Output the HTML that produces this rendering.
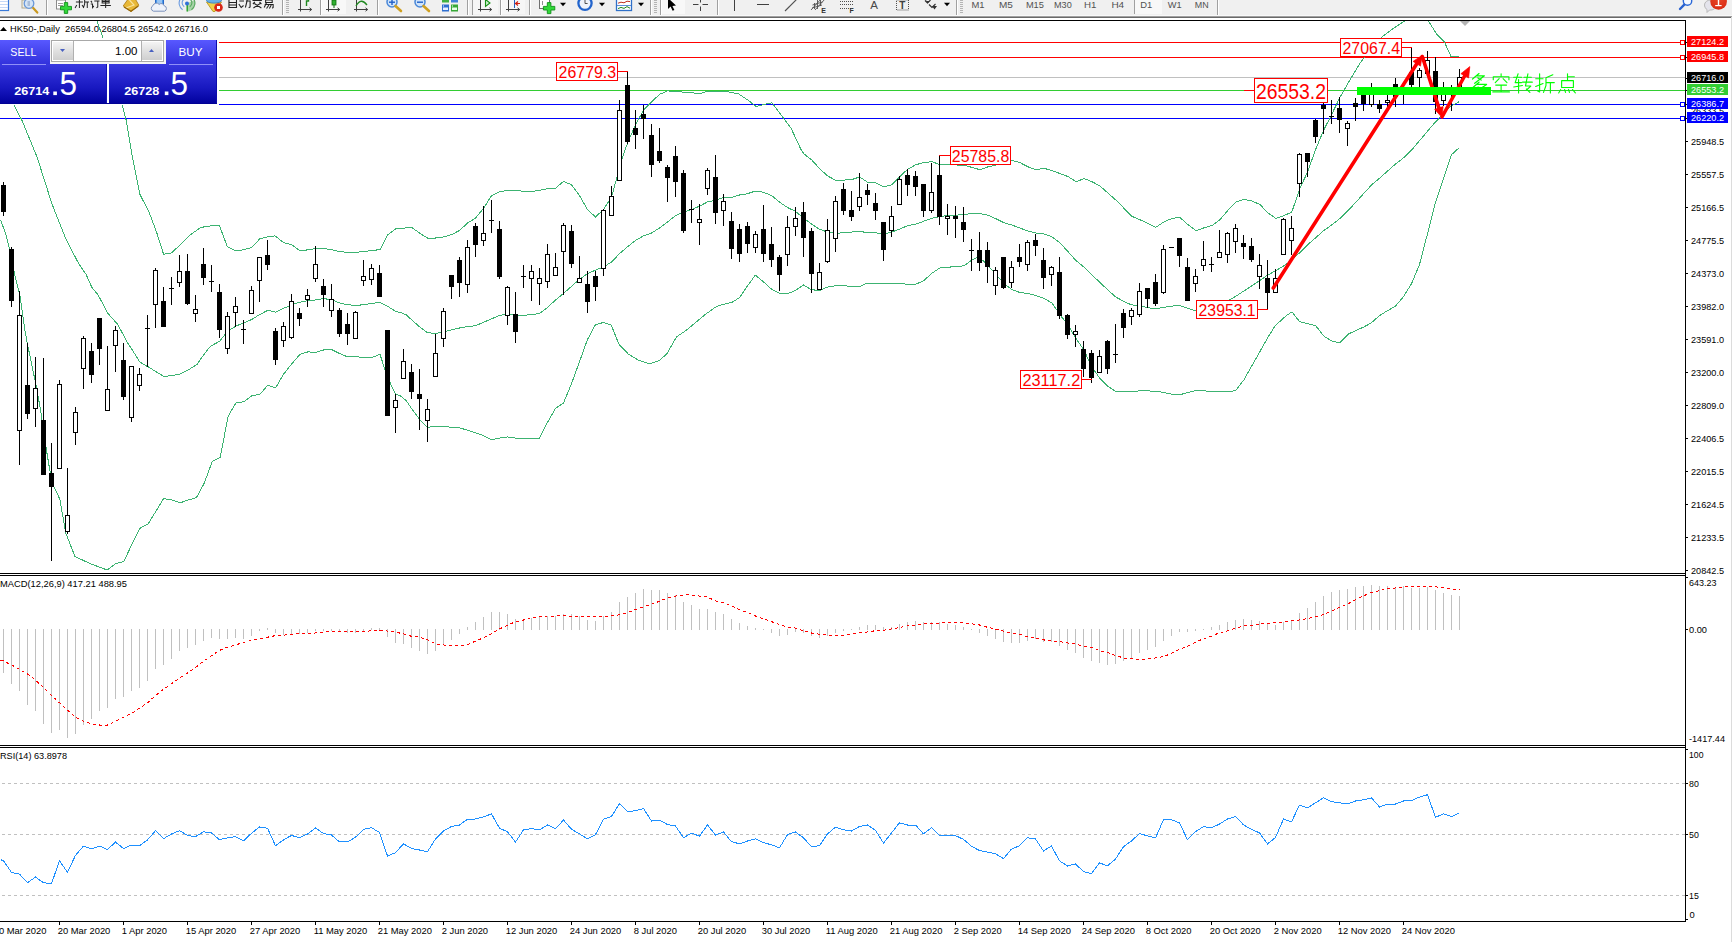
<!DOCTYPE html>
<html><head><meta charset="utf-8"><title>HK50-,Daily</title>
<style>html,body{margin:0;padding:0;background:#fff;overflow:hidden}svg{display:block;font-family:"Liberation Sans", sans-serif}text{white-space:pre}</style></head><body>
<svg width="1732" height="942" viewBox="0 0 1732 942">
<defs><clipPath id="cm"><rect x="0" y="21" width="1685" height="552"/></clipPath><clipPath id="cmacd"><rect x="0" y="576" width="1685" height="169"/></clipPath><clipPath id="crsi"><rect x="0" y="748" width="1685" height="173"/></clipPath><linearGradient id="gtop" x1="0" y1="0" x2="0" y2="1"><stop offset="0" stop-color="#5858ff"/><stop offset="1" stop-color="#3232dc"/></linearGradient><linearGradient id="gbot" x1="0" y1="0" x2="0" y2="1"><stop offset="0" stop-color="#3838e0"/><stop offset="0.6" stop-color="#1818c0"/><stop offset="1" stop-color="#00009c"/></linearGradient><linearGradient id="gbtn" x1="0" y1="0" x2="0" y2="1"><stop offset="0" stop-color="#f4f4f4"/><stop offset="0.5" stop-color="#e0e0e0"/><stop offset="1" stop-color="#cfcfcf"/></linearGradient><radialGradient id="gred" cx="0.5" cy="0.3" r="0.8"><stop offset="0" stop-color="#e8482a"/><stop offset="1" stop-color="#d82810"/></radialGradient></defs>
<rect x="0" y="0" width="1732" height="942" fill="#fff" />
<rect x="0" y="0" width="1732" height="15" fill="#f0f0f0" />
<rect x="0" y="15" width="1732" height="1" fill="#f8f8f8" />
<rect x="0" y="16" width="1732" height="1" fill="#a0a0a0" />
<rect x="0" y="17" width="1732" height="1" fill="#696969" />
<g id="toolbar">
<rect x="-1" y="-1" width="9.5" height="11.5" fill="#fff" stroke="#3a7ad8" stroke-width="1.2"/>
<rect x="0" y="1" width="8" height="1" fill="#c4d8f6" />
<rect x="0" y="4" width="8" height="1" fill="#c4d8f6" />
<rect x="0" y="7" width="8" height="1" fill="#c4d8f6" />
<rect x="22" y="0" width="10" height="8" fill="#f4f0e4" stroke="#b0a890" stroke-width="1"/>
<circle cx="29" cy="3.5" r="4.8" fill="#d4e4f6" stroke="#6a98d8" stroke-width="1.3"/>
<rect x="27.5" y="1" width="2.5" height="5" fill="#a8bcd8" />
<path d="M33.2,8 L37.3,12.6" stroke="#c89820" stroke-width="2.2" stroke-linecap="round"/>
<rect x="46" y="0" width="1" height="15" fill="#a0a0a0" />
<rect x="47" y="0" width="1" height="15" fill="#fff" />
<rect x="56.5" y="0" width="9" height="9" fill="#fff" stroke="#8a8a8a" stroke-width="1"/>
<rect x="58" y="3" width="5" height="1" fill="#9a9a9a" />
<rect x="58" y="5" width="5" height="1" fill="#9a9a9a" />
<path d="M64.3,2.6 h3.4 v3.8 h3.8 v3.4 h-3.8 v3.6 h-3.4 v-3.6 h-3.8 v-3.4 h3.8 z" fill="#30d838" stroke="#109018" stroke-width="0.9"/>
<g stroke="#222" stroke-width="1.15" fill="none" transform="translate(9.4,0) scale(0.875,1)"><path d="M76,2 h8 M80,0 v8 M77,5 l-2,3 M83,5 l1.5,2 M86,0 v4 l-1.5,4 M86,2 h5 M89,2 v6"/><path d="M93,1 l1.5,1.5 M93,4 h2 v3.5 l1.5,-1.5 M97,1 h6 M101,1 v6 l-1.5,0.8"/><path d="M106,0 h8 v3 h-8 z M106,1.5 h8 M110,0 v8 M104,5.5 h12"/></g>
<path d="M123.2,6 L128.5,-1.5 L135,-1.5 L138.8,5.2 L131,11.6 Z" fill="#e8b838" stroke="#b08018" stroke-width="0.9"/>
<path d="M128.5,-1 L134,5 L126,8" fill="none" stroke="#f8e4a0" stroke-width="1.2"/>
<path d="M124,7 L131,11.2 L138.4,6" fill="none" stroke="#986808" stroke-width="1.3"/>
<rect x="155.5" y="-1" width="8" height="6.5" fill="#4a98e8" stroke="#2868c8" stroke-width="1"/>
<rect x="157" y="0.5" width="5" height="1" fill="#e8f2ff" />
<rect x="157" y="2.5" width="5" height="1" fill="#e8f2ff" />
<path d="M153.5,11.2 a3,3 0 0 1 -0.5,-5.6 a3.6,3.6 0 0 1 6.2,-1.2 a3,3 0 0 1 5,1.4 a2.8,2.8 0 0 1 0.3,5.4 z" fill="#eef2fa" stroke="#7c92bc" stroke-width="1"/>
<path d="M187,3.5 L187,11.5 A8,8 0 0 0 194.5,0 Z" fill="#a8d4a8"/>
<path d="M183.6,-0.5 a4.6,4.6 0 0 0 0.6,7.2 M180.6,-1.5 a8,8 0 0 0 2,11.2" fill="none" stroke="#6a9ae0" stroke-width="1.1"/>
<path d="M190.4,-0.5 a4.6,4.6 0 0 1 -0.6,7.2 M193.4,-1.5 a8,8 0 0 1 -2,11.2" fill="none" stroke="#58a860" stroke-width="1.1"/>
<rect x="186.5" y="4" width="1.4" height="7.5" fill="#28a028" />
<circle cx="187" cy="3.5" r="2" fill="#3070d8"/>
<path d="M206.5,2 h15 l-6.5,9.5 h-2 z" fill="#f0d048" stroke="#b89820" stroke-width="0.9"/>
<ellipse cx="214" cy="0.5" rx="7.5" ry="2.6" fill="#68b0e8" stroke="#3880c8" stroke-width="0.9"/>
<circle cx="218.5" cy="7.5" r="4.3" fill="#d82818"/>
<rect x="217" y="6" width="3" height="3" fill="#fff" />
<g stroke="#222" stroke-width="1.15" fill="none" transform="translate(13.7,0) scale(0.94,1)"><path d="M229,0 v7.5 h8 v-7.5 M229,2.5 h8 M229,5 h8"/><path d="M240,1 h5 M239.5,4 l2.5,3.5 l2.5,-2 M247,1 h4.5 v6 l-1.5,0.8 M248.5,0 l-2,7.5"/><path d="M254,0.5 h10 M256.5,2 l-2,2 M261.5,2 l2,2 M255,8 l8,-5 M256,3.5 l7.5,4.5"/><path d="M268,0 h7 v2.5 h-7 z M267,4.5 h9 v3 l-1,0.8 M269,2.5 l-2.5,5 M271.5,5 l-2.5,3.5 M274,5 l-2,3.5"/></g>
<rect x="282" y="0" width="1" height="15" fill="#a0a0a0" />
<rect x="283" y="0" width="1" height="15" fill="#fff" />
<rect x="286" y="0" width="3" height="1" fill="#b4b4b4" />
<rect x="286" y="2" width="3" height="1" fill="#b4b4b4" />
<rect x="286" y="4" width="3" height="1" fill="#b4b4b4" />
<rect x="286" y="6" width="3" height="1" fill="#b4b4b4" />
<rect x="286" y="8" width="3" height="1" fill="#b4b4b4" />
<rect x="286" y="10" width="3" height="1" fill="#b4b4b4" />
<rect x="286" y="12" width="3" height="1" fill="#b4b4b4" />
<path d="M300.5,0 V11.5 M298,9.5 H311.5" stroke="#404040" stroke-width="1" fill="none"/>
<path d="M309.5,7.8 l2.2,1.7 l-2.2,1.7" stroke="#404040" stroke-width="1" fill="none"/>
<path d="M306.5,6 V1 h2 V-1" stroke="#208820" stroke-width="1.4" fill="none"/>
<rect x="320" y="0" width="1" height="15" fill="#a0a0a0" />
<rect x="321" y="0" width="1" height="15" fill="#fff" />
<rect x="322" y="0" width="24" height="14" fill="#f8f8f8" />
<path d="M328.5,0 V11.5 M326,9.5 H339.5" stroke="#404040" stroke-width="1" fill="none"/>
<path d="M337.5,7.8 l2.2,1.7 l-2.2,1.7" stroke="#404040" stroke-width="1" fill="none"/>
<rect x="332" y="0" width="4" height="5" fill="#30b030" stroke="#107010" stroke-width="0.8"/>
<rect x="333.5" y="5" width="1" height="3" fill="#107010" />
<path d="M356.5,0 V11.5 M354,9.5 H367.5" stroke="#404040" stroke-width="1" fill="none"/>
<path d="M365.5,7.8 l2.2,1.7 l-2.2,1.7" stroke="#404040" stroke-width="1" fill="none"/>
<path d="M356,6 q5,-9 11,-1" stroke="#208820" stroke-width="1.3" fill="none"/>
<rect x="377" y="0" width="1" height="15" fill="#a0a0a0" />
<rect x="378" y="0" width="1" height="15" fill="#fff" />
<circle cx="392" cy="2" r="5" fill="#d0e4fa" stroke="#4a88d8" stroke-width="1.5"/>
<path d="M395.5,6 L401,11" stroke="#d0a020" stroke-width="2.6" stroke-linecap="round"/>
<rect x="389" y="1.5" width="6" height="1.4" fill="#2060c8" />
<rect x="391.3" y="-1" width="1.4" height="6" fill="#2060c8" />
<circle cx="420" cy="2" r="5" fill="#d0e4fa" stroke="#4a88d8" stroke-width="1.5"/>
<path d="M423.5,6 L429,11" stroke="#d0a020" stroke-width="2.6" stroke-linecap="round"/>
<rect x="417" y="1.5" width="6" height="1.4" fill="#2060c8" />
<rect x="442" y="0" width="7" height="2.5" fill="#40b040" />
<rect x="451" y="0" width="7" height="2.5" fill="#4080d8" />
<rect x="442" y="4.5" width="7" height="7" fill="#3070d0" />
<rect x="451" y="4.5" width="7" height="7" fill="#38a838" />
<rect x="443" y="7.5" width="5" height="2.5" fill="#e8f0ff" />
<rect x="452" y="7.5" width="5" height="2.5" fill="#e8ffe8" />
<rect x="443" y="5.5" width="1" height="1" fill="#fff" />
<rect x="452" y="5.5" width="1" height="1" fill="#fff" />
<rect x="467" y="0" width="1" height="15" fill="#a0a0a0" />
<rect x="468" y="0" width="1" height="15" fill="#fff" />
<rect x="472" y="0" width="1" height="15" fill="#a0a0a0" />
<rect x="473" y="0" width="25" height="14" fill="#f6f6f6" />
<path d="M480.5,0 V11.5 M478,9.5 H491.5" stroke="#404040" stroke-width="1" fill="none"/>
<path d="M489.5,7.8 l2.2,1.7 l-2.2,1.7" stroke="#404040" stroke-width="1" fill="none"/>
<path d="M485.5,-0.5 v7 l4.5,-3.5 z" fill="#c8f0c8" stroke="#189018" stroke-width="1.1"/>
<rect x="500" y="0" width="1" height="15" fill="#a0a0a0" />
<rect x="501" y="0" width="1" height="15" fill="#fff" />
<rect x="502" y="0" width="23" height="14" fill="#f6f6f6" />
<path d="M508.5,0 V11.5 M506,9.5 H519.5" stroke="#404040" stroke-width="1" fill="none"/>
<path d="M517.5,7.8 l2.2,1.7 l-2.2,1.7" stroke="#404040" stroke-width="1" fill="none"/>
<rect x="514" y="0" width="1" height="8" fill="#2060c0" />
<path d="M520,3.5 h-4 m2,-2 l-2.5,2 l2.5,2" stroke="#d02010" stroke-width="1.2" fill="none"/>
<rect x="529" y="0" width="1" height="15" fill="#a0a0a0" />
<rect x="530" y="0" width="1" height="15" fill="#fff" />
<rect x="539.5" y="-1" width="10" height="9.5" fill="#fff" stroke="#707070" stroke-width="1"/>
<rect x="542" y="1" width="1" height="4" fill="#909090" />
<path d="M547.3,2.6 h3.6 v3.8 h3.9 v3.6 h-3.9 v3.6 h-3.6 v-3.6 h-3.9 v-3.6 h3.9 z" fill="#30d838" stroke="#109018" stroke-width="0.9"/>
<path d="M560,2.7 L566,2.7 L563,6.2 Z" fill="#000"/>
<circle cx="585" cy="3.3" r="6.6" fill="#eef2fa" stroke="#2264cc" stroke-width="2.3"/>
<path d="M585,-0.5 v4 h2.6" stroke="#505050" stroke-width="1" fill="none"/>
<path d="M599,2.7 L605,2.7 L602,6.2 Z" fill="#000"/>
<rect x="616.5" y="-1" width="15" height="11.5" fill="#fff" stroke="#3070c8" stroke-width="1.3"/>
<rect x="617" y="5" width="14" height="1" fill="#6090d8" />
<path d="M618,3.2 l3,-1 l3,0.6 l3,-1.6 l3,0.4" stroke="#c03020" stroke-width="1" fill="none"/>
<path d="M618,8.6 l3,-1.2 l3,1 l3,-1.8 l3,1.6" stroke="#208820" stroke-width="1" fill="none"/>
<path d="M638,2.7 L644,2.7 L641,6.2 Z" fill="#000"/>
<rect x="650" y="0" width="1" height="15" fill="#a0a0a0" />
<rect x="651" y="0" width="1" height="15" fill="#fff" />
<rect x="654" y="0" width="3" height="1" fill="#b4b4b4" />
<rect x="654" y="2" width="3" height="1" fill="#b4b4b4" />
<rect x="654" y="4" width="3" height="1" fill="#b4b4b4" />
<rect x="654" y="6" width="3" height="1" fill="#b4b4b4" />
<rect x="654" y="8" width="3" height="1" fill="#b4b4b4" />
<rect x="654" y="10" width="3" height="1" fill="#b4b4b4" />
<rect x="654" y="12" width="3" height="1" fill="#b4b4b4" />
<rect x="660" y="0" width="1" height="15" fill="#a0a0a0" />
<rect x="661" y="0" width="1" height="15" fill="#fff" />
<rect x="662" y="0" width="23" height="14" fill="#f8f8f8" />
<path d="M668,-2 v11 l2.6,-2.4 l2,4.2 l1.8,-0.9 l-2,-4 l3.6,-0.3 z" fill="#000"/>
<path d="M700.5,-2 V11 M693,4.5 H708" stroke="#404040" stroke-width="1" fill="none"/>
<rect x="698.5" y="2.5" width="4" height="4" fill="#f0f0f0" />
<rect x="717" y="0" width="1" height="15" fill="#a0a0a0" />
<rect x="718" y="0" width="1" height="15" fill="#fff" />
<rect x="734" y="0" width="1" height="11" fill="#404040" />
<rect x="757" y="4" width="12" height="1" fill="#404040" />
<path d="M785,11 L796.5,-0.5" stroke="#505050" stroke-width="1.1"/>
<path d="M811,10 l10,-11 M815,10 l10,-11 M812.5,5 l10,-3 M812,8 l10,-3 M817.5,9 l0,-9 M814.5,9 l0,-6 M820.5,6 l0,-7" stroke="#505050" stroke-width="0.9"/>
<text x="821.3" y="13" font-size="7" fill="#303030" font-weight="bold" >E</text>
<path d="M840,1.5 h13" stroke="#505050" stroke-width="1" stroke-dasharray="1 1"/>
<path d="M840,4.5 h13" stroke="#505050" stroke-width="1" stroke-dasharray="1 1"/>
<path d="M840,8.5 h13" stroke="#505050" stroke-width="1" stroke-dasharray="1 1"/>
<text x="849.5" y="13" font-size="7" fill="#303030" font-weight="bold" >F</text>
<text x="870.3" y="8.6" font-size="11.5" fill="#484848" >A</text>
<rect x="896.5" y="0" width="12" height="10" fill="none" stroke="#505050" stroke-width="1" stroke-dasharray="1 1"/>
<text x="899.3" y="9" font-size="10" fill="#404040" font-weight="bold" >T</text>
<path d="M925,0.5 l2.5,2.5 l3,-3 M929,4.5 l3,3 l3.5,-3.5" stroke="#303030" stroke-width="1.1" fill="none"/>
<path d="M926,1 l3.5,0 l-1.8,2.6 z M932,6 l5,0 l-2.5,3.4 z M924.5,-1 l3,0 l-1.5,1.8 z" fill="#303030"/>
<path d="M944,2.7 L950,2.7 L947,6.2 Z" fill="#000"/>
<rect x="956" y="0" width="1" height="15" fill="#a0a0a0" />
<rect x="957" y="0" width="1" height="15" fill="#fff" />
<rect x="960" y="0" width="3" height="1" fill="#b4b4b4" />
<rect x="960" y="2" width="3" height="1" fill="#b4b4b4" />
<rect x="960" y="4" width="3" height="1" fill="#b4b4b4" />
<rect x="960" y="6" width="3" height="1" fill="#b4b4b4" />
<rect x="960" y="8" width="3" height="1" fill="#b4b4b4" />
<rect x="960" y="10" width="3" height="1" fill="#b4b4b4" />
<rect x="960" y="12" width="3" height="1" fill="#b4b4b4" />
<rect x="1135" y="0" width="27" height="14" fill="#f8f8f8" />
<rect x="1134" y="0" width="1" height="14" fill="#a0a0a0" />
<text x="971.5" y="8" font-size="9.3" fill="#505050" textLength="13.1" lengthAdjust="spacingAndGlyphs" >M1</text>
<text x="998.9" y="8" font-size="9.3" fill="#505050" textLength="13.9" lengthAdjust="spacingAndGlyphs" >M5</text>
<text x="1025.9" y="8" font-size="9.3" fill="#505050" textLength="18.0" lengthAdjust="spacingAndGlyphs" >M15</text>
<text x="1054" y="8" font-size="9.3" fill="#505050" textLength="17.7" lengthAdjust="spacingAndGlyphs" >M30</text>
<text x="1084" y="8" font-size="9.3" fill="#505050" textLength="12.4" lengthAdjust="spacingAndGlyphs" >H1</text>
<text x="1111.4" y="8" font-size="9.3" fill="#505050" textLength="12.8" lengthAdjust="spacingAndGlyphs" >H4</text>
<text x="1140.3" y="8" font-size="9.3" fill="#505050" textLength="12.0" lengthAdjust="spacingAndGlyphs" >D1</text>
<text x="1167.7" y="8" font-size="9.3" fill="#505050" textLength="13.9" lengthAdjust="spacingAndGlyphs" >W1</text>
<text x="1194.7" y="8" font-size="9.3" fill="#505050" textLength="13.9" lengthAdjust="spacingAndGlyphs" >MN</text>
<rect x="1217" y="0" width="1" height="15" fill="#a0a0a0" />
<rect x="1218" y="0" width="1" height="15" fill="#fff" />
<circle cx="1687.5" cy="1" r="4.2" fill="#f4f8ff" stroke="#2a68d8" stroke-width="1.4"/>
<path d="M1684.3,4.6 L1680,9" stroke="#2a62d0" stroke-width="2.4" stroke-linecap="round"/>
<path d="M1704.5,5 a6,5 0 0 1 12,0 a6,5 0 0 1 -7,5 l-2.5,2.5 v-3 a6,5 0 0 1 -2.5,-4.5 z" fill="#e4e4ec" stroke="#b8b8b8" stroke-width="1"/>
<circle cx="1718.6" cy="1.4" r="8.3" fill="url(#gred)"/>
<rect x="1717.8" y="-3" width="1.4" height="8.6" fill="#fff" />
<rect x="1715.2" y="5" width="6.4" height="1.2" fill="#fff" />
</g>
<rect x="0" y="20" width="1686" height="1" fill="#000" />
<rect x="1685" y="20" width="1" height="902" fill="#000" />
<rect x="0" y="573" width="1686" height="1" fill="#000" />
<rect x="0" y="575" width="1686" height="1" fill="#000" />
<rect x="0" y="745" width="1686" height="1" fill="#000" />
<rect x="0" y="747" width="1686" height="1" fill="#000" />
<rect x="0" y="921" width="1686" height="1" fill="#000" />
<rect x="1731" y="17" width="1" height="925" fill="#dcdcdc" />
<g clip-path="url(#cm)">
<rect x="0" y="42" width="1685" height="1" fill="#ff0000" />
<rect x="0" y="57" width="1685" height="1" fill="#ff0000" />
<rect x="0" y="77" width="1685" height="1" fill="#c0c0c0" />
<rect x="0" y="90" width="1685" height="1" fill="#32cd32" />
<rect x="0" y="104" width="1685" height="1" fill="#0000ff" />
<rect x="0" y="118" width="1685" height="1" fill="#0000ff" />
<polyline points="97.2,21.5 103.1,38.3 110.5,66.5 122.4,106.1 126.3,120.5 132.4,157.1 139.7,193.8 149.5,213.3 156.8,232.8 163.6,254.3 171.5,252.9 180.0,245.0 189.8,235.3 200.5,227.5 210.3,225.9 219.5,225.9 227.4,246.9 235.9,251.0 243.5,249.8 251.8,247.4 259.8,238.8 267.7,236.9 275.0,235.9 283.5,242.5 292.1,244.9 300.1,251.0 307.9,249.8 315.8,248.6 323.8,248.6 332.4,249.8 339.7,251.8 347.5,252.2 355.6,252.2 363.6,251.8 371.4,250.3 380.0,249.8 387.3,235.2 395.4,229.0 400.5,228.6 411.5,227.2 419.8,233.3 427.5,238.0 435.5,238.0 443.5,236.9 451.5,234.7 459.5,230.5 467.5,223.1 475.5,218.1 483.5,208.4 491.5,195.7 499.5,191.9 507.5,190.2 531.5,191.6 547.5,188.8 555.5,188.3 563.5,181.4 571.5,184.7 579.5,195.7 587.5,209.5 595.5,217.0 603.5,209.5 611.5,197.1 619.5,168.1 623.5,154.3 627.5,143.3 635.5,124.5 643.5,110.2 651.5,101.9 659.5,94.4 667.5,90.9 675.5,91.4 683.5,92.2 691.5,92.8 699.5,93.6 707.5,91.4 715.5,91.4 727.4,91.6 738.6,93.9 748.1,100.2 756.1,106.6 764.1,104.4 772.0,102.8 781.6,115.5 791.1,128.3 800.7,149.0 804.0,153.9 812.0,160.2 819.9,169.0 827.9,176.1 835.9,180.4 843.8,180.1 851.8,179.6 859.7,176.9 867.7,182.3 875.7,182.8 883.6,186.8 891.6,184.9 899.8,176.6 907.8,169.1 915.9,164.7 923.9,162.6 931.9,161.7 940.0,164.7 948.0,164.7 965.2,165.3 972.7,167.7 980.1,169.7 988.1,166.8 994.9,165.3 1011.3,160.2 1019.9,162.6 1027.9,166.8 1036.0,169.7 1044.0,168.3 1052.0,170.6 1060.0,173.6 1068.1,176.6 1076.1,181.6 1084.1,178.7 1091.9,181.6 1100.5,186.4 1105.0,190.5 1115.5,199.8 1123.7,208.0 1131.6,216.2 1139.8,219.7 1147.8,223.2 1155.7,227.4 1163.9,222.0 1171.8,218.5 1179.8,217.4 1187.7,224.4 1195.9,230.7 1203.8,227.9 1212.0,225.5 1219.9,219.7 1227.9,210.4 1235.8,202.2 1244.0,199.4 1251.9,201.0 1259.9,204.5 1267.8,212.7 1276.0,218.5 1283.9,215.7 1291.8,212.0 1299.9,188.6 1307.9,171.1 1315.8,148.9 1323.7,130.2 1331.9,113.9 1339.9,97.5 1350.5,79.0 1359.8,63.6 1369.0,51.3 1381.3,37.4 1393.7,28.2 1402.9,22.0 1410.5,17.5 1420.5,15.5 1429.1,22.0 1436.8,34.4 1444.5,42.1 1451.0,56.5 1459.3,56.5" fill="none" stroke="#3cb371" stroke-width="1" shape-rendering="crispEdges"/>
<polyline points="0.5,79.5 14.4,106.1 22.0,120.5 37.1,157.1 51.8,203.5 66.4,240.2 78.6,263.4 86.0,274.3 92.1,287.8 98.2,295.1 107.9,313.4 117.7,324.4 127.5,342.7 132.4,350.1 139.7,362.0 148.2,366.9 164.1,376.6 180.0,374.2 188.5,369.8 197.1,364.4 200.5,359.0 210.3,346.3 219.5,341.4 227.4,331.6 235.9,326.0 243.5,323.1 251.8,319.4 259.8,314.5 267.7,310.4 275.7,312.1 283.5,308.4 292.1,304.7 299.4,302.3 307.9,300.6 315.8,299.9 323.8,298.6 332.4,299.9 339.7,303.0 347.5,304.7 355.6,305.5 363.6,304.7 371.4,303.5 380.0,302.3 387.3,306.0 395.4,311.3 400.5,312.5 406.0,314.7 411.5,319.7 419.8,327.1 427.5,332.6 435.5,333.5 443.5,331.8 451.5,329.9 459.5,328.0 467.5,326.6 475.5,325.7 483.5,322.4 491.5,318.8 499.5,315.5 507.5,313.9 515.5,315.3 523.5,315.3 531.5,314.7 539.5,313.5 547.5,307.4 555.5,300.1 563.5,293.5 571.5,286.3 579.5,279.4 587.5,273.7 595.5,270.1 603.5,267.0 611.5,262.0 619.5,253.7 627.5,246.8 635.5,240.5 643.5,235.8 651.5,233.0 659.5,228.0 667.5,222.0 675.5,215.6 683.5,212.3 691.5,209.5 699.5,206.2 707.5,201.9 715.5,200.2 723.6,197.6 731.6,197.4 739.5,195.0 747.5,193.7 755.4,191.0 763.4,192.3 771.6,195.5 779.6,202.2 787.5,207.5 795.5,211.4 803.5,218.1 811.4,223.9 819.4,229.2 827.6,232.1 835.6,233.5 843.5,232.7 851.5,232.1 859.5,231.3 867.4,232.7 875.4,232.7 883.6,234.0 891.6,232.1 899.7,229.0 907.8,225.6 915.9,224.1 923.9,221.2 931.9,218.2 940.0,216.7 948.0,215.2 956.0,215.2 964.0,214.3 972.1,213.7 980.1,213.7 988.1,215.2 996.1,218.8 1003.9,222.7 1011.9,225.0 1019.9,228.0 1027.9,231.0 1036.0,233.1 1044.0,233.9 1052.0,236.9 1060.0,242.9 1068.1,251.8 1076.1,260.7 1083.8,267.0 1091.7,274.8 1099.7,282.1 1107.6,289.8 1115.5,296.8 1123.7,301.4 1131.6,304.9 1139.8,305.4 1147.8,307.7 1155.7,308.9 1163.9,307.3 1171.8,306.1 1179.8,305.4 1187.7,308.4 1195.9,310.8 1203.5,310.0 1211.5,308.0 1219.5,305.0 1228.8,300.3 1235.8,296.3 1244.0,290.9 1251.9,285.8 1259.9,280.4 1267.8,275.0 1275.8,270.7 1283.9,265.8 1291.8,260.1 1299.9,252.5 1307.9,244.6 1315.8,237.6 1323.7,230.6 1331.9,224.8 1339.9,218.5 1347.8,210.8 1356.0,202.1 1363.9,193.3 1371.4,185.1 1379.6,178.1 1387.5,171.1 1395.4,164.1 1403.6,157.8 1411.6,150.1 1419.5,140.7 1427.4,131.4 1435.4,122.0 1443.3,113.9 1451.5,105.7 1459.2,101.7" fill="none" stroke="#3cb371" stroke-width="1" shape-rendering="crispEdges"/>
<polyline points="0.5,219.9 5.4,232.8 10.3,252.4 15.2,276.8 20.0,296.3 24.9,330.5 27.9,346.4 29.8,355.2 35.9,384.5 40.8,411.3 46.9,452.8 51.8,482.1 59.8,499.2 65.9,533.4 75.0,556.6 90.9,563.9 107.2,570.0 115.3,563.9 123.8,561.5 132.4,543.2 139.7,528.5 148.2,523.7 163.6,498.7 171.5,499.7 180.0,502.9 188.5,499.9 196.5,497.6 204.3,483.0 212.2,461.5 220.2,457.5 228.1,416.2 235.8,403.1 244.1,401.6 251.8,395.8 259.8,394.4 267.7,385.3 275.7,387.8 283.5,374.3 292.1,363.4 300.1,354.3 307.9,351.9 315.8,352.4 323.8,349.9 332.4,349.9 339.7,353.6 347.5,356.8 355.6,356.8 363.6,357.3 371.4,357.7 380.0,354.3 387.3,376.8 395.4,393.9 400.5,396.0 406.0,400.3 411.5,408.5 419.8,419.6 427.5,427.3 435.5,426.5 443.5,426.5 451.5,427.3 459.5,427.9 467.5,430.1 475.5,432.8 483.5,435.6 491.5,439.7 499.5,438.1 507.5,437.0 515.5,438.1 523.5,438.1 531.5,438.1 539.5,438.1 547.5,422.4 555.5,408.5 563.5,403.0 571.5,383.7 579.5,361.6 587.5,339.5 595.3,324.9 603.2,322.5 611.2,325.1 619.2,344.8 628.7,354.4 638.3,360.1 649.4,363.9 659.0,360.8 666.9,353.7 676.5,336.9 686.0,330.5 695.6,322.5 705.1,314.6 716.3,306.6 723.6,304.3 731.6,302.5 739.5,297.7 747.5,285.8 755.4,275.1 763.4,281.8 771.6,289.2 779.6,293.2 787.5,293.7 795.5,290.5 803.5,285.0 811.4,289.7 819.4,290.5 827.6,287.1 835.6,285.8 843.5,285.8 851.5,286.3 859.5,286.5 867.4,283.1 875.4,283.1 883.6,283.9 891.8,283.0 899.8,283.6 907.8,284.2 915.9,284.2 923.9,280.6 931.9,273.2 940.0,267.8 948.0,267.2 956.0,266.6 964.0,265.8 972.1,259.8 977.1,257.7 983.1,260.7 988.1,265.8 996.1,274.7 1003.9,283.6 1011.9,289.5 1019.9,292.5 1027.9,293.4 1036.0,295.5 1044.0,298.5 1052.0,302.9 1060.0,314.8 1068.1,325.2 1076.1,338.6 1083.8,349.7 1091.7,367.0 1099.7,378.0 1107.6,386.2 1115.5,391.3 1123.7,391.3 1131.6,391.3 1139.8,390.9 1147.8,390.9 1155.7,391.3 1163.9,392.5 1171.8,394.1 1179.8,394.8 1187.7,392.5 1195.9,390.6 1203.8,390.9 1212.0,391.3 1219.9,391.3 1227.9,391.8 1235.8,390.6 1244.0,379.7 1251.9,365.7 1259.9,351.6 1267.8,337.6 1275.6,325.1 1280.7,320.7 1285.7,316.1 1291.9,311.9 1299.6,321.6 1307.5,323.7 1315.8,325.8 1323.6,335.9 1331.5,341.0 1339.8,342.9 1348.6,333.9 1356.4,330.4 1364.3,326.7 1371.2,323.0 1379.5,315.6 1386.9,311.0 1395.4,306.2 1403.6,296.5 1411.6,283.5 1419.5,264.5 1427.4,234.1 1435.4,202.6 1443.3,179.2 1451.5,154.7 1459.2,147.7" fill="none" stroke="#3cb371" stroke-width="1" shape-rendering="crispEdges"/>
<g shape-rendering="crispEdges">
<rect x="3" y="182" width="1" height="34" fill="#000" />
<rect x="1" y="185" width="5" height="27" fill="#000" />
<rect x="11" y="247" width="1" height="60" fill="#000" />
<rect x="9" y="249" width="5" height="52" fill="#000" />
<rect x="19" y="291" width="1" height="174" fill="#000" />
<rect x="17" y="315" width="5" height="116" fill="#000" />
<rect x="18" y="316" width="3" height="114" fill="#fff" />
<rect x="27" y="343" width="1" height="76" fill="#000" />
<rect x="25" y="385" width="5" height="29" fill="#000" />
<rect x="35" y="357" width="1" height="70" fill="#000" />
<rect x="33" y="388" width="5" height="21" fill="#000" />
<rect x="34" y="389" width="3" height="19" fill="#fff" />
<rect x="43" y="358" width="1" height="117" fill="#000" />
<rect x="41" y="420" width="5" height="55" fill="#000" />
<rect x="51" y="443" width="1" height="118" fill="#000" />
<rect x="49" y="473" width="5" height="14" fill="#000" />
<rect x="59" y="380" width="1" height="89" fill="#000" />
<rect x="57" y="384" width="5" height="85" fill="#000" />
<rect x="58" y="385" width="3" height="83" fill="#fff" />
<rect x="67" y="468" width="1" height="66" fill="#000" />
<rect x="65" y="515" width="5" height="17" fill="#000" />
<rect x="66" y="516" width="3" height="15" fill="#fff" />
<rect x="75" y="407" width="1" height="38" fill="#000" />
<rect x="73" y="412" width="5" height="21" fill="#000" />
<rect x="74" y="413" width="3" height="19" fill="#fff" />
<rect x="83" y="336" width="1" height="53" fill="#000" />
<rect x="81" y="338" width="5" height="31" fill="#000" />
<rect x="82" y="339" width="3" height="29" fill="#fff" />
<rect x="91" y="343" width="1" height="40" fill="#000" />
<rect x="89" y="351" width="5" height="24" fill="#000" />
<rect x="99" y="318" width="1" height="47" fill="#000" />
<rect x="97" y="318" width="5" height="31" fill="#000" />
<rect x="107" y="346" width="1" height="65" fill="#000" />
<rect x="105" y="389" width="5" height="22" fill="#000" />
<rect x="106" y="390" width="3" height="20" fill="#fff" />
<rect x="115" y="326" width="1" height="46" fill="#000" />
<rect x="113" y="330" width="5" height="16" fill="#000" />
<rect x="114" y="331" width="3" height="14" fill="#fff" />
<rect x="123" y="343" width="1" height="57" fill="#000" />
<rect x="121" y="360" width="5" height="37" fill="#000" />
<rect x="131" y="366" width="1" height="56" fill="#000" />
<rect x="129" y="366" width="5" height="52" fill="#000" />
<rect x="130" y="367" width="3" height="50" fill="#fff" />
<rect x="139" y="368" width="1" height="23" fill="#000" />
<rect x="137" y="374" width="5" height="12" fill="#000" />
<rect x="138" y="375" width="3" height="10" fill="#fff" />
<rect x="147" y="315" width="1" height="52" fill="#000" />
<rect x="145" y="328" width="5" height="1" fill="#000" />
<rect x="155" y="268" width="1" height="60" fill="#000" />
<rect x="153" y="270" width="5" height="35" fill="#000" />
<rect x="154" y="271" width="3" height="33" fill="#fff" />
<rect x="163" y="287" width="1" height="40" fill="#000" />
<rect x="161" y="301" width="5" height="26" fill="#000" />
<rect x="171" y="277" width="1" height="28" fill="#000" />
<rect x="169" y="288" width="5" height="1" fill="#000" />
<rect x="179" y="255" width="1" height="32" fill="#000" />
<rect x="177" y="271" width="5" height="12" fill="#000" />
<rect x="178" y="272" width="3" height="10" fill="#fff" />
<rect x="187" y="254" width="1" height="51" fill="#000" />
<rect x="185" y="271" width="5" height="33" fill="#000" />
<rect x="195" y="295" width="1" height="27" fill="#000" />
<rect x="193" y="309" width="5" height="5" fill="#000" />
<rect x="194" y="310" width="3" height="3" fill="#fff" />
<rect x="203" y="248" width="1" height="37" fill="#000" />
<rect x="201" y="264" width="5" height="14" fill="#000" />
<rect x="211" y="265" width="1" height="27" fill="#000" />
<rect x="209" y="281" width="5" height="1" fill="#000" />
<rect x="219" y="284" width="1" height="54" fill="#000" />
<rect x="217" y="292" width="5" height="38" fill="#000" />
<rect x="227" y="312" width="1" height="42" fill="#000" />
<rect x="225" y="316" width="5" height="33" fill="#000" />
<rect x="226" y="317" width="3" height="31" fill="#fff" />
<rect x="235" y="297" width="1" height="30" fill="#000" />
<rect x="233" y="306" width="5" height="7" fill="#000" />
<rect x="234" y="307" width="3" height="5" fill="#fff" />
<rect x="243" y="320" width="1" height="24" fill="#000" />
<rect x="241" y="329" width="5" height="1" fill="#000" />
<rect x="251" y="286" width="1" height="28" fill="#000" />
<rect x="249" y="290" width="5" height="24" fill="#000" />
<rect x="250" y="291" width="3" height="22" fill="#fff" />
<rect x="259" y="257" width="1" height="45" fill="#000" />
<rect x="257" y="257" width="5" height="24" fill="#000" />
<rect x="258" y="258" width="3" height="22" fill="#fff" />
<rect x="267" y="240" width="1" height="30" fill="#000" />
<rect x="265" y="255" width="5" height="10" fill="#000" />
<rect x="275" y="328" width="1" height="37" fill="#000" />
<rect x="273" y="331" width="5" height="29" fill="#000" />
<rect x="283" y="322" width="1" height="25" fill="#000" />
<rect x="281" y="326" width="5" height="15" fill="#000" />
<rect x="282" y="327" width="3" height="13" fill="#fff" />
<rect x="291" y="294" width="1" height="45" fill="#000" />
<rect x="289" y="301" width="5" height="37" fill="#000" />
<rect x="290" y="302" width="3" height="35" fill="#fff" />
<rect x="299" y="308" width="1" height="18" fill="#000" />
<rect x="297" y="313" width="5" height="6" fill="#000" />
<rect x="307" y="289" width="1" height="18" fill="#000" />
<rect x="305" y="295" width="5" height="5" fill="#000" />
<rect x="306" y="296" width="3" height="3" fill="#fff" />
<rect x="315" y="246" width="1" height="36" fill="#000" />
<rect x="313" y="264" width="5" height="15" fill="#000" />
<rect x="314" y="265" width="3" height="13" fill="#fff" />
<rect x="323" y="279" width="1" height="28" fill="#000" />
<rect x="321" y="286" width="5" height="9" fill="#000" />
<rect x="331" y="284" width="1" height="33" fill="#000" />
<rect x="329" y="299" width="5" height="12" fill="#000" />
<rect x="330" y="300" width="3" height="10" fill="#fff" />
<rect x="339" y="308" width="1" height="29" fill="#000" />
<rect x="337" y="310" width="5" height="24" fill="#000" />
<rect x="347" y="313" width="1" height="32" fill="#000" />
<rect x="345" y="324" width="5" height="10" fill="#000" />
<rect x="355" y="311" width="1" height="28" fill="#000" />
<rect x="353" y="312" width="5" height="27" fill="#000" />
<rect x="354" y="313" width="3" height="25" fill="#fff" />
<rect x="363" y="260" width="1" height="26" fill="#000" />
<rect x="361" y="276" width="5" height="5" fill="#000" />
<rect x="362" y="277" width="3" height="3" fill="#fff" />
<rect x="371" y="264" width="1" height="21" fill="#000" />
<rect x="369" y="268" width="5" height="12" fill="#000" />
<rect x="370" y="269" width="3" height="10" fill="#fff" />
<rect x="379" y="265" width="1" height="32" fill="#000" />
<rect x="377" y="273" width="5" height="24" fill="#000" />
<rect x="387" y="330" width="1" height="86" fill="#000" />
<rect x="385" y="330" width="5" height="86" fill="#000" />
<rect x="395" y="394" width="1" height="39" fill="#000" />
<rect x="393" y="400" width="5" height="8" fill="#000" />
<rect x="394" y="401" width="3" height="6" fill="#fff" />
<rect x="403" y="349" width="1" height="30" fill="#000" />
<rect x="401" y="361" width="5" height="18" fill="#000" />
<rect x="402" y="362" width="3" height="16" fill="#fff" />
<rect x="411" y="364" width="1" height="35" fill="#000" />
<rect x="409" y="372" width="5" height="20" fill="#000" />
<rect x="419" y="369" width="1" height="61" fill="#000" />
<rect x="417" y="394" width="5" height="5" fill="#000" />
<rect x="427" y="399" width="1" height="43" fill="#000" />
<rect x="425" y="409" width="5" height="12" fill="#000" />
<rect x="426" y="410" width="3" height="10" fill="#fff" />
<rect x="435" y="334" width="1" height="43" fill="#000" />
<rect x="433" y="353" width="5" height="24" fill="#000" />
<rect x="434" y="354" width="3" height="22" fill="#fff" />
<rect x="443" y="308" width="1" height="39" fill="#000" />
<rect x="441" y="311" width="5" height="28" fill="#000" />
<rect x="442" y="312" width="3" height="26" fill="#fff" />
<rect x="451" y="275" width="1" height="24" fill="#000" />
<rect x="449" y="275" width="5" height="12" fill="#000" />
<rect x="459" y="257" width="1" height="40" fill="#000" />
<rect x="457" y="260" width="5" height="23" fill="#000" />
<rect x="467" y="240" width="1" height="53" fill="#000" />
<rect x="465" y="247" width="5" height="38" fill="#000" />
<rect x="466" y="248" width="3" height="36" fill="#fff" />
<rect x="475" y="223" width="1" height="34" fill="#000" />
<rect x="473" y="226" width="5" height="19" fill="#000" />
<rect x="483" y="206" width="1" height="40" fill="#000" />
<rect x="481" y="233" width="5" height="8" fill="#000" />
<rect x="482" y="234" width="3" height="6" fill="#fff" />
<rect x="491" y="200" width="1" height="33" fill="#000" />
<rect x="489" y="220" width="5" height="1" fill="#000" />
<rect x="499" y="221" width="1" height="58" fill="#000" />
<rect x="497" y="229" width="5" height="48" fill="#000" />
<rect x="507" y="286" width="1" height="39" fill="#000" />
<rect x="505" y="287" width="5" height="29" fill="#000" />
<rect x="506" y="288" width="3" height="27" fill="#fff" />
<rect x="515" y="292" width="1" height="51" fill="#000" />
<rect x="513" y="314" width="5" height="18" fill="#000" />
<rect x="523" y="265" width="1" height="23" fill="#000" />
<rect x="521" y="276" width="5" height="1" fill="#000" />
<rect x="531" y="265" width="1" height="36" fill="#000" />
<rect x="529" y="271" width="5" height="8" fill="#000" />
<rect x="530" y="272" width="3" height="6" fill="#fff" />
<rect x="539" y="268" width="1" height="37" fill="#000" />
<rect x="537" y="278" width="5" height="6" fill="#000" />
<rect x="538" y="279" width="3" height="4" fill="#fff" />
<rect x="547" y="244" width="1" height="44" fill="#000" />
<rect x="545" y="254" width="5" height="28" fill="#000" />
<rect x="546" y="255" width="3" height="26" fill="#fff" />
<rect x="555" y="253" width="1" height="23" fill="#000" />
<rect x="553" y="267" width="5" height="9" fill="#000" />
<rect x="554" y="268" width="3" height="7" fill="#fff" />
<rect x="563" y="223" width="1" height="72" fill="#000" />
<rect x="561" y="225" width="5" height="27" fill="#000" />
<rect x="562" y="226" width="3" height="25" fill="#fff" />
<rect x="571" y="225" width="1" height="43" fill="#000" />
<rect x="569" y="231" width="5" height="33" fill="#000" />
<rect x="579" y="256" width="1" height="27" fill="#000" />
<rect x="577" y="278" width="5" height="5" fill="#000" />
<rect x="578" y="279" width="3" height="3" fill="#fff" />
<rect x="587" y="271" width="1" height="42" fill="#000" />
<rect x="585" y="284" width="5" height="18" fill="#000" />
<rect x="595" y="271" width="1" height="30" fill="#000" />
<rect x="593" y="276" width="5" height="11" fill="#000" />
<rect x="603" y="209" width="1" height="67" fill="#000" />
<rect x="601" y="210" width="5" height="59" fill="#000" />
<rect x="602" y="211" width="3" height="57" fill="#fff" />
<rect x="611" y="186" width="1" height="30" fill="#000" />
<rect x="609" y="196" width="5" height="20" fill="#000" />
<rect x="610" y="197" width="3" height="18" fill="#fff" />
<rect x="619" y="100" width="1" height="81" fill="#000" />
<rect x="617" y="110" width="5" height="71" fill="#000" />
<rect x="618" y="111" width="3" height="69" fill="#fff" />
<rect x="627" y="72" width="1" height="72" fill="#000" />
<rect x="625" y="85" width="5" height="57" fill="#000" />
<rect x="635" y="110" width="1" height="39" fill="#000" />
<rect x="633" y="128" width="5" height="7" fill="#000" />
<rect x="643" y="105" width="1" height="34" fill="#000" />
<rect x="641" y="114" width="5" height="5" fill="#000" />
<rect x="651" y="124" width="1" height="53" fill="#000" />
<rect x="649" y="135" width="5" height="30" fill="#000" />
<rect x="659" y="128" width="1" height="35" fill="#000" />
<rect x="657" y="151" width="5" height="10" fill="#000" />
<rect x="667" y="165" width="1" height="37" fill="#000" />
<rect x="665" y="167" width="5" height="11" fill="#000" />
<rect x="675" y="146" width="1" height="51" fill="#000" />
<rect x="673" y="156" width="5" height="26" fill="#000" />
<rect x="683" y="170" width="1" height="63" fill="#000" />
<rect x="681" y="173" width="5" height="58" fill="#000" />
<rect x="691" y="200" width="1" height="23" fill="#000" />
<rect x="689" y="209" width="5" height="1" fill="#000" />
<rect x="699" y="204" width="1" height="41" fill="#000" />
<rect x="697" y="219" width="5" height="4" fill="#000" />
<rect x="698" y="220" width="3" height="2" fill="#fff" />
<rect x="707" y="168" width="1" height="27" fill="#000" />
<rect x="705" y="170" width="5" height="19" fill="#000" />
<rect x="706" y="171" width="3" height="17" fill="#fff" />
<rect x="715" y="155" width="1" height="69" fill="#000" />
<rect x="713" y="177" width="5" height="36" fill="#000" />
<rect x="723" y="194" width="1" height="32" fill="#000" />
<rect x="721" y="201" width="5" height="10" fill="#000" />
<rect x="722" y="202" width="3" height="8" fill="#fff" />
<rect x="731" y="212" width="1" height="47" fill="#000" />
<rect x="729" y="221" width="5" height="28" fill="#000" />
<rect x="739" y="224" width="1" height="38" fill="#000" />
<rect x="737" y="229" width="5" height="25" fill="#000" />
<rect x="747" y="222" width="1" height="31" fill="#000" />
<rect x="745" y="226" width="5" height="18" fill="#000" />
<rect x="755" y="231" width="1" height="22" fill="#000" />
<rect x="753" y="234" width="5" height="14" fill="#000" />
<rect x="754" y="235" width="3" height="12" fill="#fff" />
<rect x="763" y="205" width="1" height="57" fill="#000" />
<rect x="761" y="229" width="5" height="25" fill="#000" />
<rect x="771" y="227" width="1" height="40" fill="#000" />
<rect x="769" y="244" width="5" height="16" fill="#000" />
<rect x="779" y="255" width="1" height="36" fill="#000" />
<rect x="777" y="257" width="5" height="18" fill="#000" />
<rect x="787" y="216" width="1" height="50" fill="#000" />
<rect x="785" y="227" width="5" height="28" fill="#000" />
<rect x="786" y="228" width="3" height="26" fill="#fff" />
<rect x="795" y="207" width="1" height="29" fill="#000" />
<rect x="793" y="218" width="5" height="9" fill="#000" />
<rect x="794" y="219" width="3" height="7" fill="#fff" />
<rect x="803" y="202" width="1" height="55" fill="#000" />
<rect x="801" y="212" width="5" height="26" fill="#000" />
<rect x="811" y="228" width="1" height="65" fill="#000" />
<rect x="809" y="231" width="5" height="43" fill="#000" />
<rect x="819" y="263" width="1" height="27" fill="#000" />
<rect x="817" y="272" width="5" height="18" fill="#000" />
<rect x="818" y="273" width="3" height="16" fill="#fff" />
<rect x="827" y="219" width="1" height="44" fill="#000" />
<rect x="825" y="230" width="5" height="32" fill="#000" />
<rect x="826" y="231" width="3" height="30" fill="#fff" />
<rect x="835" y="196" width="1" height="56" fill="#000" />
<rect x="833" y="201" width="5" height="38" fill="#000" />
<rect x="834" y="202" width="3" height="36" fill="#fff" />
<rect x="843" y="183" width="1" height="32" fill="#000" />
<rect x="841" y="189" width="5" height="22" fill="#000" />
<rect x="851" y="191" width="1" height="30" fill="#000" />
<rect x="849" y="210" width="5" height="7" fill="#000" />
<rect x="859" y="173" width="1" height="38" fill="#000" />
<rect x="857" y="197" width="5" height="10" fill="#000" />
<rect x="858" y="198" width="3" height="8" fill="#fff" />
<rect x="867" y="184" width="1" height="21" fill="#000" />
<rect x="865" y="190" width="5" height="5" fill="#000" />
<rect x="875" y="193" width="1" height="27" fill="#000" />
<rect x="873" y="203" width="5" height="8" fill="#000" />
<rect x="883" y="222" width="1" height="39" fill="#000" />
<rect x="881" y="222" width="5" height="28" fill="#000" />
<rect x="891" y="206" width="1" height="31" fill="#000" />
<rect x="889" y="216" width="5" height="15" fill="#000" />
<rect x="890" y="217" width="3" height="13" fill="#fff" />
<rect x="899" y="176" width="1" height="29" fill="#000" />
<rect x="897" y="179" width="5" height="26" fill="#000" />
<rect x="898" y="180" width="3" height="24" fill="#fff" />
<rect x="907" y="169" width="1" height="27" fill="#000" />
<rect x="905" y="175" width="5" height="10" fill="#000" />
<rect x="915" y="171" width="1" height="25" fill="#000" />
<rect x="913" y="176" width="5" height="11" fill="#000" />
<rect x="923" y="184" width="1" height="33" fill="#000" />
<rect x="921" y="184" width="5" height="27" fill="#000" />
<rect x="931" y="163" width="1" height="50" fill="#000" />
<rect x="929" y="192" width="5" height="19" fill="#000" />
<rect x="930" y="193" width="3" height="17" fill="#fff" />
<rect x="939" y="156" width="1" height="69" fill="#000" />
<rect x="937" y="175" width="5" height="42" fill="#000" />
<rect x="947" y="204" width="1" height="31" fill="#000" />
<rect x="945" y="216" width="5" height="3" fill="#000" />
<rect x="946" y="217" width="3" height="1" fill="#fff" />
<rect x="955" y="206" width="1" height="32" fill="#000" />
<rect x="953" y="216" width="5" height="3" fill="#000" />
<rect x="963" y="207" width="1" height="35" fill="#000" />
<rect x="961" y="222" width="5" height="8" fill="#000" />
<rect x="971" y="239" width="1" height="32" fill="#000" />
<rect x="969" y="250" width="5" height="1" fill="#000" />
<rect x="979" y="232" width="1" height="39" fill="#000" />
<rect x="977" y="250" width="5" height="13" fill="#000" />
<rect x="987" y="242" width="1" height="41" fill="#000" />
<rect x="985" y="250" width="5" height="17" fill="#000" />
<rect x="995" y="267" width="1" height="28" fill="#000" />
<rect x="993" y="270" width="5" height="16" fill="#000" />
<rect x="994" y="271" width="3" height="14" fill="#fff" />
<rect x="1003" y="257" width="1" height="32" fill="#000" />
<rect x="1001" y="257" width="5" height="31" fill="#000" />
<rect x="1011" y="261" width="1" height="27" fill="#000" />
<rect x="1009" y="267" width="5" height="16" fill="#000" />
<rect x="1010" y="268" width="3" height="14" fill="#fff" />
<rect x="1019" y="244" width="1" height="23" fill="#000" />
<rect x="1017" y="257" width="5" height="5" fill="#000" />
<rect x="1027" y="240" width="1" height="31" fill="#000" />
<rect x="1025" y="242" width="5" height="23" fill="#000" />
<rect x="1026" y="243" width="3" height="21" fill="#fff" />
<rect x="1035" y="234" width="1" height="22" fill="#000" />
<rect x="1033" y="240" width="5" height="6" fill="#000" />
<rect x="1043" y="248" width="1" height="41" fill="#000" />
<rect x="1041" y="260" width="5" height="18" fill="#000" />
<rect x="1051" y="266" width="1" height="20" fill="#000" />
<rect x="1049" y="267" width="5" height="8" fill="#000" />
<rect x="1050" y="268" width="3" height="6" fill="#fff" />
<rect x="1059" y="257" width="1" height="62" fill="#000" />
<rect x="1057" y="272" width="5" height="44" fill="#000" />
<rect x="1067" y="314" width="1" height="25" fill="#000" />
<rect x="1065" y="315" width="5" height="20" fill="#000" />
<rect x="1075" y="325" width="1" height="22" fill="#000" />
<rect x="1073" y="331" width="5" height="4" fill="#000" />
<rect x="1074" y="332" width="3" height="2" fill="#fff" />
<rect x="1083" y="341" width="1" height="36" fill="#000" />
<rect x="1081" y="349" width="5" height="20" fill="#000" />
<rect x="1091" y="350" width="1" height="33" fill="#000" />
<rect x="1089" y="353" width="5" height="25" fill="#000" />
<rect x="1099" y="350" width="1" height="23" fill="#000" />
<rect x="1097" y="356" width="5" height="17" fill="#000" />
<rect x="1098" y="357" width="3" height="15" fill="#fff" />
<rect x="1107" y="340" width="1" height="34" fill="#000" />
<rect x="1105" y="341" width="5" height="28" fill="#000" />
<rect x="1115" y="324" width="1" height="39" fill="#000" />
<rect x="1113" y="354" width="5" height="1" fill="#000" />
<rect x="1123" y="309" width="1" height="29" fill="#000" />
<rect x="1121" y="313" width="5" height="15" fill="#000" />
<rect x="1131" y="308" width="1" height="17" fill="#000" />
<rect x="1129" y="310" width="5" height="7" fill="#000" />
<rect x="1130" y="311" width="3" height="5" fill="#fff" />
<rect x="1139" y="283" width="1" height="34" fill="#000" />
<rect x="1137" y="291" width="5" height="24" fill="#000" />
<rect x="1138" y="292" width="3" height="22" fill="#fff" />
<rect x="1147" y="288" width="1" height="20" fill="#000" />
<rect x="1145" y="288" width="5" height="11" fill="#000" />
<rect x="1155" y="274" width="1" height="32" fill="#000" />
<rect x="1153" y="282" width="5" height="22" fill="#000" />
<rect x="1163" y="245" width="1" height="49" fill="#000" />
<rect x="1161" y="249" width="5" height="44" fill="#000" />
<rect x="1162" y="250" width="3" height="42" fill="#fff" />
<rect x="1169" y="247" width="5" height="1" fill="#000" />
<rect x="1179" y="238" width="1" height="29" fill="#000" />
<rect x="1177" y="238" width="5" height="18" fill="#000" />
<rect x="1187" y="258" width="1" height="43" fill="#000" />
<rect x="1185" y="267" width="5" height="34" fill="#000" />
<rect x="1195" y="269" width="1" height="23" fill="#000" />
<rect x="1193" y="276" width="5" height="8" fill="#000" />
<rect x="1194" y="277" width="3" height="6" fill="#fff" />
<rect x="1203" y="241" width="1" height="30" fill="#000" />
<rect x="1201" y="259" width="5" height="7" fill="#000" />
<rect x="1202" y="260" width="3" height="5" fill="#fff" />
<rect x="1211" y="257" width="1" height="15" fill="#000" />
<rect x="1209" y="264" width="5" height="1" fill="#000" />
<rect x="1219" y="230" width="1" height="28" fill="#000" />
<rect x="1217" y="252" width="5" height="6" fill="#000" />
<rect x="1218" y="253" width="3" height="4" fill="#fff" />
<rect x="1227" y="232" width="1" height="31" fill="#000" />
<rect x="1225" y="233" width="5" height="22" fill="#000" />
<rect x="1226" y="234" width="3" height="20" fill="#fff" />
<rect x="1235" y="224" width="1" height="29" fill="#000" />
<rect x="1233" y="228" width="5" height="14" fill="#000" />
<rect x="1234" y="229" width="3" height="12" fill="#fff" />
<rect x="1243" y="235" width="1" height="24" fill="#000" />
<rect x="1241" y="243" width="5" height="4" fill="#000" />
<rect x="1251" y="238" width="1" height="24" fill="#000" />
<rect x="1249" y="246" width="5" height="14" fill="#000" />
<rect x="1259" y="254" width="1" height="35" fill="#000" />
<rect x="1257" y="265" width="5" height="12" fill="#000" />
<rect x="1258" y="266" width="3" height="10" fill="#fff" />
<rect x="1267" y="260" width="1" height="50" fill="#000" />
<rect x="1265" y="278" width="5" height="15" fill="#000" />
<rect x="1275" y="269" width="1" height="24" fill="#000" />
<rect x="1273" y="278" width="5" height="15" fill="#000" />
<rect x="1274" y="279" width="3" height="13" fill="#fff" />
<rect x="1283" y="218" width="1" height="37" fill="#000" />
<rect x="1281" y="219" width="5" height="36" fill="#000" />
<rect x="1282" y="220" width="3" height="34" fill="#fff" />
<rect x="1291" y="216" width="1" height="39" fill="#000" />
<rect x="1289" y="228" width="5" height="13" fill="#000" />
<rect x="1290" y="229" width="3" height="11" fill="#fff" />
<rect x="1299" y="153" width="1" height="44" fill="#000" />
<rect x="1297" y="154" width="5" height="30" fill="#000" />
<rect x="1298" y="155" width="3" height="28" fill="#fff" />
<rect x="1307" y="153" width="1" height="24" fill="#000" />
<rect x="1305" y="153" width="5" height="9" fill="#000" />
<rect x="1315" y="119" width="1" height="24" fill="#000" />
<rect x="1313" y="120" width="5" height="17" fill="#000" />
<rect x="1323" y="101" width="1" height="33" fill="#000" />
<rect x="1321" y="105" width="5" height="4" fill="#000" />
<rect x="1331" y="100" width="1" height="24" fill="#000" />
<rect x="1329" y="116" width="5" height="1" fill="#000" />
<rect x="1339" y="97" width="1" height="36" fill="#000" />
<rect x="1337" y="108" width="5" height="12" fill="#000" />
<rect x="1347" y="121" width="1" height="25" fill="#000" />
<rect x="1345" y="123" width="5" height="6" fill="#000" />
<rect x="1346" y="124" width="3" height="4" fill="#fff" />
<rect x="1355" y="98" width="1" height="23" fill="#000" />
<rect x="1353" y="103" width="5" height="4" fill="#000" />
<rect x="1363" y="88" width="1" height="23" fill="#000" />
<rect x="1361" y="89" width="5" height="15" fill="#000" />
<rect x="1371" y="83" width="1" height="24" fill="#000" />
<rect x="1369" y="88" width="5" height="17" fill="#000" />
<rect x="1370" y="89" width="3" height="15" fill="#fff" />
<rect x="1379" y="100" width="1" height="13" fill="#000" />
<rect x="1377" y="104" width="5" height="5" fill="#000" />
<rect x="1387" y="94" width="1" height="15" fill="#000" />
<rect x="1385" y="100" width="5" height="3" fill="#000" />
<rect x="1386" y="101" width="3" height="1" fill="#fff" />
<rect x="1395" y="78" width="1" height="29" fill="#000" />
<rect x="1393" y="84" width="5" height="13" fill="#000" />
<rect x="1403" y="88" width="1" height="16" fill="#000" />
<rect x="1401" y="88" width="5" height="7" fill="#000" />
<rect x="1411" y="47" width="1" height="41" fill="#000" />
<rect x="1409" y="72" width="5" height="13" fill="#000" />
<rect x="1419" y="68" width="1" height="19" fill="#000" />
<rect x="1417" y="70" width="5" height="8" fill="#000" />
<rect x="1418" y="71" width="3" height="6" fill="#fff" />
<rect x="1427" y="51" width="1" height="25" fill="#000" />
<rect x="1425" y="60" width="5" height="14" fill="#000" />
<rect x="1426" y="61" width="3" height="12" fill="#fff" />
<rect x="1435" y="57" width="1" height="57" fill="#000" />
<rect x="1433" y="71" width="5" height="31" fill="#000" />
<rect x="1443" y="82" width="1" height="24" fill="#000" />
<rect x="1441" y="87" width="5" height="14" fill="#000" />
<rect x="1442" y="88" width="3" height="12" fill="#fff" />
<rect x="1451" y="85" width="1" height="26" fill="#000" />
<rect x="1449" y="88" width="5" height="7" fill="#000" />
<rect x="1459" y="69" width="1" height="24" fill="#000" />
<rect x="1457" y="77" width="5" height="11" fill="#000" />
<rect x="1458" y="78" width="3" height="9" fill="#fff" />
</g>
<rect x="1680.5" y="40.5" width="4" height="4" fill="#fff" stroke="#ff0000" stroke-width="1"/>
<rect x="1680.5" y="55.5" width="4" height="4" fill="#fff" stroke="#ff0000" stroke-width="1"/>
<rect x="1680.5" y="102.5" width="4" height="4" fill="#fff" stroke="#0000ff" stroke-width="1"/>
<rect x="1680.5" y="116.5" width="4" height="4" fill="#fff" stroke="#0000ff" stroke-width="1"/>
<path d="M1273.3,288.0 L1417.9,62.0" stroke="#ff0000" stroke-width="3.6" stroke-linecap="round" fill="none"/>
<path d="M1422.2,55.3 L1420.5,66.1 L1413.1,61.4 Z" fill="#ff0000" stroke="#ff0000" stroke-width="0.7" stroke-linejoin="round"/>
<path d="M1422.3,56.5 L1439.5,109.9" stroke="#ff0000" stroke-width="3.6" stroke-linecap="round" fill="none"/>
<path d="M1442.0,117.5 L1434.7,109.3 L1443.1,106.6 Z" fill="#ff0000" stroke="#ff0000" stroke-width="0.7" stroke-linejoin="round"/>
<path d="M1442.0,117.0 L1465.7,74.0" stroke="#ff0000" stroke-width="3.6" stroke-linecap="round" fill="none"/>
<path d="M1469.8,66.6 L1468.6,77.9 L1460.9,73.7 Z" fill="#ff0000" stroke="#ff0000" stroke-width="0.7" stroke-linejoin="round"/>
<rect x="1357" y="87" width="134" height="8" fill="#00ff00" />
<path transform="translate(1469.3,73.6) scale(1.08)" d="M9,0 L3,5 M7,2 H14 L5,9 M8,4 L11,6 M9,8 L2,14 M7,10 H16 L3,19 M8,12.5 L12,15.5" fill="none" stroke="#00ff00" stroke-width="1.15" stroke-linecap="round" stroke-linejoin="round"/>
<path transform="translate(1491.8,73.8) scale(0.98)" d="M9.5,0 V2 M1.5,3 V6 M1.5,3 H17.5 V6 M7.5,5 L3.5,9 M11.5,5 L15.5,9 M4,11.5 H15 M9.5,11.5 V18.5 M1,18.5 H18" fill="none" stroke="#00ff00" stroke-width="1.15" stroke-linecap="round" stroke-linejoin="round"/>
<path transform="translate(1513.2,73.8) scale(0.98)" d="M0.5,3.5 H8.5 M5,0 L2,9 H8.5 M5.5,6 V19.5 M0.5,13.5 L9.5,12 M11,3.5 H18.5 M9.5,8.5 H19.5 M15,0 L12.5,12.5 H18 L13.5,16.5 M13.5,15.5 L17,19" fill="none" stroke="#00ff00" stroke-width="1.15" stroke-linecap="round" stroke-linejoin="round"/>
<path transform="translate(1535.2,73.8) scale(0.98)" d="M0.5,5 H8 M4.5,0 V18.5 L2.5,17.5 M0.5,13 L8,10 M18,1 L11,4 V12 L8.5,19 M11,9 H19.5 M15.5,9 V19.5" fill="none" stroke="#00ff00" stroke-width="1.15" stroke-linecap="round" stroke-linejoin="round"/>
<path transform="translate(1558.2,73.8) scale(0.98)" d="M9.5,0 V7 M9.5,3 H16.5 M3.5,7 V14 M3.5,7 H15.5 V14 M3.5,14 H15.5 M2.5,16 L0.5,19.5 M6.5,16 L7.5,19 M10.5,16 L11.5,19 M14.5,16 L17.5,19.5" fill="none" stroke="#00ff00" stroke-width="1.15" stroke-linecap="round" stroke-linejoin="round"/>
<rect x="618" y="71" width="10" height="1" fill="#ff0000" />
<rect x="556.5" y="62.5" width="61" height="18" fill="#fff" stroke="#ff0000" stroke-width="1"/>
<text x="558.6" y="78" font-size="16" fill="#ff0000" textLength="57.5" lengthAdjust="spacingAndGlyphs" >26779.3</text>
<rect x="939" y="155" width="12" height="1" fill="#ff0000" />
<rect x="950.5" y="146.5" width="60" height="18" fill="#fff" stroke="#ff0000" stroke-width="1"/>
<text x="951.8" y="162" font-size="16" fill="#ff0000" textLength="57.5" lengthAdjust="spacingAndGlyphs" >25785.8</text>
<rect x="1081" y="379" width="11" height="1" fill="#ff0000" />
<rect x="1020.5" y="370.5" width="61" height="18" fill="#fff" stroke="#ff0000" stroke-width="1"/>
<text x="1022.5" y="386" font-size="16" fill="#ff0000" textLength="57.7" lengthAdjust="spacingAndGlyphs" >23117.2</text>
<rect x="1258" y="309" width="10" height="1" fill="#ff0000" />
<rect x="1196.5" y="300.5" width="61" height="18" fill="#fff" stroke="#ff0000" stroke-width="1"/>
<text x="1198.6" y="316" font-size="16" fill="#ff0000" textLength="57" lengthAdjust="spacingAndGlyphs" >23953.1</text>
<rect x="1401" y="47" width="11" height="1" fill="#ff0000" />
<rect x="1340.5" y="38.5" width="61" height="18" fill="#fff" stroke="#ff0000" stroke-width="1"/>
<text x="1342.5" y="54" font-size="16" fill="#ff0000" textLength="57.5" lengthAdjust="spacingAndGlyphs" >27067.4</text>
<rect x="1244" y="90" width="10" height="1" fill="#ff0000" />
<rect x="1254.5" y="78.5" width="73" height="24" fill="#fff" stroke="#ff0000" stroke-width="1"/>
<text x="1256" y="99" font-size="21.5" fill="#ff0000" textLength="70" lengthAdjust="spacingAndGlyphs" >26553.2</text>
</g>
<path d="M1460,21 L1470,21 L1465,26 Z" fill="#b4b4b4"/>
<path d="M0,31 L7,31 L3.5,27 Z" fill="#000"/>
<text x="10" y="31.5" font-size="9.4" fill="#000" textLength="198" lengthAdjust="spacingAndGlyphs" >HK50-,Daily  26594.0 26804.5 26542.0 26716.0</text>
<polyline points="97.2,21.5 103.1,38.3" fill="none" stroke="#3cb371" stroke-width="1" shape-rendering="crispEdges"/>
<rect x="0" y="38" width="219" height="67" fill="#fff" />
<rect x="0" y="40" width="217" height="64" fill="url(#gbot)" />
<rect x="0" y="40" width="50" height="24" fill="url(#gtop)" />
<rect x="166" y="40" width="51" height="24" fill="url(#gtop)" />
<rect x="0" y="64" width="217" height="40" fill="url(#gbot)" />
<rect x="107" y="64" width="2" height="40" fill="#fff" />
<rect x="216" y="40" width="1" height="64" fill="#0c0cac" />
<rect x="106" y="64" width="1" height="40" fill="#1414b4" />
<rect x="0" y="103" width="217" height="1" fill="#000094" />
<rect x="2" y="64" width="44" height="1" fill="#9090f8" />
<rect x="169" y="64" width="44" height="1" fill="#9090f8" />
<rect x="50" y="40" width="116" height="24" fill="#f4f4f4" />
<rect x="51.5" y="40.5" width="112" height="21" fill="#fff" stroke="#a8a8a8" stroke-width="1"/>
<rect x="53" y="42" width="20" height="18" fill="url(#gbtn)" />
<rect x="73" y="41" width="1" height="20" fill="#b0b0b0" />
<rect x="142" y="42" width="20" height="18" fill="url(#gbtn)" />
<rect x="141" y="41" width="1" height="20" fill="#b0b0b0" />
<path d="M60,49 h5 l-2.5,3 z" fill="#4860c0"/>
<path d="M149,52 h5 l-2.5,-3 z" fill="#4860c0"/>
<text x="137.5" y="55" font-size="11.5" fill="#000" text-anchor="end" >1.00</text>
<text x="10.3" y="55.8" font-size="11.5" fill="#fff" textLength="26" lengthAdjust="spacingAndGlyphs" >SELL</text>
<text x="178.5" y="55.8" font-size="11.5" fill="#fff" textLength="24" lengthAdjust="spacingAndGlyphs" >BUY</text>
<text x="14.3" y="95" font-size="11.5" fill="#fff" textLength="35" lengthAdjust="spacingAndGlyphs" font-weight="bold" >26714</text>
<text x="124.2" y="95" font-size="11.5" fill="#fff" textLength="35" lengthAdjust="spacingAndGlyphs" font-weight="bold" >26728</text>
<rect x="53.3" y="91.5" width="3.6" height="3.6" fill="#fff" />
<rect x="164.8" y="91.5" width="3.6" height="3.6" fill="#fff" />
<text x="59.5" y="95" font-size="33" fill="#fff" textLength="17.5" lengthAdjust="spacingAndGlyphs" >5</text>
<text x="170.5" y="95" font-size="33" fill="#fff" textLength="17.5" lengthAdjust="spacingAndGlyphs" >5</text>
<rect x="1686" y="141" width="2" height="1" fill="#000" />
<rect x="1686" y="174" width="2" height="1" fill="#000" />
<rect x="1686" y="207" width="2" height="1" fill="#000" />
<rect x="1686" y="240" width="2" height="1" fill="#000" />
<rect x="1686" y="273" width="2" height="1" fill="#000" />
<rect x="1686" y="306" width="2" height="1" fill="#000" />
<rect x="1686" y="339" width="2" height="1" fill="#000" />
<rect x="1686" y="372" width="2" height="1" fill="#000" />
<rect x="1686" y="405" width="2" height="1" fill="#000" />
<rect x="1686" y="438" width="2" height="1" fill="#000" />
<rect x="1686" y="471" width="2" height="1" fill="#000" />
<rect x="1686" y="504" width="2" height="1" fill="#000" />
<rect x="1686" y="537" width="2" height="1" fill="#000" />
<rect x="1686" y="570" width="2" height="1" fill="#000" />
<text x="1691" y="144.5" font-size="9.4" fill="#000" textLength="33" lengthAdjust="spacingAndGlyphs" >25948.5</text>
<text x="1691" y="177.5" font-size="9.4" fill="#000" textLength="33" lengthAdjust="spacingAndGlyphs" >25557.5</text>
<text x="1691" y="210.5" font-size="9.4" fill="#000" textLength="33" lengthAdjust="spacingAndGlyphs" >25166.5</text>
<text x="1691" y="243.5" font-size="9.4" fill="#000" textLength="33" lengthAdjust="spacingAndGlyphs" >24775.5</text>
<text x="1691" y="276.5" font-size="9.4" fill="#000" textLength="33" lengthAdjust="spacingAndGlyphs" >24373.0</text>
<text x="1691" y="309.5" font-size="9.4" fill="#000" textLength="33" lengthAdjust="spacingAndGlyphs" >23982.0</text>
<text x="1691" y="342.5" font-size="9.4" fill="#000" textLength="33" lengthAdjust="spacingAndGlyphs" >23591.0</text>
<text x="1691" y="375.5" font-size="9.4" fill="#000" textLength="33" lengthAdjust="spacingAndGlyphs" >23200.0</text>
<text x="1691" y="408.5" font-size="9.4" fill="#000" textLength="33" lengthAdjust="spacingAndGlyphs" >22809.0</text>
<text x="1691" y="441.5" font-size="9.4" fill="#000" textLength="33" lengthAdjust="spacingAndGlyphs" >22406.5</text>
<text x="1691" y="474.5" font-size="9.4" fill="#000" textLength="33" lengthAdjust="spacingAndGlyphs" >22015.5</text>
<text x="1691" y="507.5" font-size="9.4" fill="#000" textLength="33" lengthAdjust="spacingAndGlyphs" >21624.5</text>
<text x="1691" y="540.5" font-size="9.4" fill="#000" textLength="33" lengthAdjust="spacingAndGlyphs" >21233.5</text>
<text x="1691" y="573.5" font-size="9.4" fill="#000" textLength="33" lengthAdjust="spacingAndGlyphs" >20842.5</text>
<text x="1691" y="113.6" font-size="9.4" fill="#000" textLength="33" lengthAdjust="spacingAndGlyphs" >26333.5</text>
<rect x="1687" y="98" width="41" height="11" fill="#0000ff" />
<rect x="1687" y="112" width="41" height="11" fill="#0000ff" />
<rect x="1686" y="42" width="2" height="1" fill="#000" />
<rect x="1687" y="36" width="41" height="11" fill="#ff0000" />
<text x="1691" y="45" font-size="9.4" fill="#fff" textLength="33" lengthAdjust="spacingAndGlyphs" >27124.2</text>
<rect x="1686" y="57" width="2" height="1" fill="#000" />
<rect x="1687" y="51" width="41" height="11" fill="#ff0000" />
<text x="1691" y="60" font-size="9.4" fill="#fff" textLength="33" lengthAdjust="spacingAndGlyphs" >26945.8</text>
<rect x="1686" y="78" width="2" height="1" fill="#000" />
<rect x="1687" y="72" width="41" height="11" fill="#000000" />
<text x="1691" y="81" font-size="9.4" fill="#fff" textLength="33" lengthAdjust="spacingAndGlyphs" >26716.0</text>
<rect x="1686" y="90" width="2" height="1" fill="#000" />
<rect x="1687" y="84" width="41" height="11" fill="#32cd32" />
<text x="1691" y="93" font-size="9.4" fill="#fff" textLength="33" lengthAdjust="spacingAndGlyphs" >26553.2</text>
<rect x="1686" y="104" width="2" height="1" fill="#000" />
<rect x="1687" y="98" width="41" height="11" fill="#0000ff" />
<text x="1691" y="107" font-size="9.4" fill="#fff" textLength="33" lengthAdjust="spacingAndGlyphs" >26386.7</text>
<rect x="1686" y="118" width="2" height="1" fill="#000" />
<rect x="1687" y="112" width="41" height="11" fill="#0000ff" />
<text x="1691" y="121" font-size="9.4" fill="#fff" textLength="33" lengthAdjust="spacingAndGlyphs" >26220.2</text>
<text x="0" y="587" font-size="9.4" fill="#000" textLength="127" lengthAdjust="spacingAndGlyphs" >MACD(12,26,9) 417.21 488.95</text>
<g clip-path="url(#cmacd)">
<g shape-rendering="crispEdges">
<rect x="3" y="629" width="1" height="44" fill="#c0c0c0" />
<rect x="11" y="629" width="1" height="55" fill="#c0c0c0" />
<rect x="19" y="629" width="1" height="62" fill="#c0c0c0" />
<rect x="27" y="629" width="1" height="76" fill="#c0c0c0" />
<rect x="35" y="629" width="1" height="82" fill="#c0c0c0" />
<rect x="43" y="629" width="1" height="95" fill="#c0c0c0" />
<rect x="51" y="629" width="1" height="104" fill="#c0c0c0" />
<rect x="59" y="629" width="1" height="101" fill="#c0c0c0" />
<rect x="67" y="629" width="1" height="109" fill="#c0c0c0" />
<rect x="75" y="629" width="1" height="105" fill="#c0c0c0" />
<rect x="83" y="629" width="1" height="96" fill="#c0c0c0" />
<rect x="91" y="629" width="1" height="90" fill="#c0c0c0" />
<rect x="99" y="629" width="1" height="82" fill="#c0c0c0" />
<rect x="107" y="629" width="1" height="79" fill="#c0c0c0" />
<rect x="115" y="629" width="1" height="70" fill="#c0c0c0" />
<rect x="123" y="629" width="1" height="68" fill="#c0c0c0" />
<rect x="131" y="629" width="1" height="62" fill="#c0c0c0" />
<rect x="139" y="629" width="1" height="59" fill="#c0c0c0" />
<rect x="147" y="629" width="1" height="52" fill="#c0c0c0" />
<rect x="155" y="629" width="1" height="40" fill="#c0c0c0" />
<rect x="163" y="629" width="1" height="36" fill="#c0c0c0" />
<rect x="171" y="629" width="1" height="30" fill="#c0c0c0" />
<rect x="179" y="629" width="1" height="22" fill="#c0c0c0" />
<rect x="187" y="629" width="1" height="19" fill="#c0c0c0" />
<rect x="195" y="629" width="1" height="16" fill="#c0c0c0" />
<rect x="203" y="629" width="1" height="12" fill="#c0c0c0" />
<rect x="211" y="629" width="1" height="9" fill="#c0c0c0" />
<rect x="219" y="629" width="1" height="10" fill="#c0c0c0" />
<rect x="227" y="629" width="1" height="10" fill="#c0c0c0" />
<rect x="235" y="629" width="1" height="9" fill="#c0c0c0" />
<rect x="243" y="629" width="1" height="10" fill="#c0c0c0" />
<rect x="251" y="629" width="1" height="7" fill="#c0c0c0" />
<rect x="259" y="629" width="1" height="2" fill="#c0c0c0" />
<rect x="267" y="628" width="1" height="2" fill="#c0c0c0" />
<rect x="275" y="629" width="1" height="4" fill="#c0c0c0" />
<rect x="283" y="629" width="1" height="6" fill="#c0c0c0" />
<rect x="291" y="629" width="1" height="5" fill="#c0c0c0" />
<rect x="299" y="629" width="1" height="5" fill="#c0c0c0" />
<rect x="307" y="629" width="1" height="4" fill="#c0c0c0" />
<rect x="315" y="629" width="1" height="2" fill="#c0c0c0" />
<rect x="323" y="629" width="1" height="2" fill="#c0c0c0" />
<rect x="331" y="629" width="1" height="2" fill="#c0c0c0" />
<rect x="339" y="629" width="1" height="3" fill="#c0c0c0" />
<rect x="347" y="629" width="1" height="4" fill="#c0c0c0" />
<rect x="355" y="629" width="1" height="4" fill="#c0c0c0" />
<rect x="363" y="629" width="1" height="2" fill="#c0c0c0" />
<rect x="371" y="628" width="1" height="2" fill="#c0c0c0" />
<rect x="379" y="628" width="1" height="2" fill="#c0c0c0" />
<rect x="387" y="629" width="1" height="8" fill="#c0c0c0" />
<rect x="395" y="629" width="1" height="14" fill="#c0c0c0" />
<rect x="403" y="629" width="1" height="15" fill="#c0c0c0" />
<rect x="411" y="629" width="1" height="19" fill="#c0c0c0" />
<rect x="419" y="629" width="1" height="22" fill="#c0c0c0" />
<rect x="427" y="629" width="1" height="25" fill="#c0c0c0" />
<rect x="435" y="629" width="1" height="22" fill="#c0c0c0" />
<rect x="443" y="629" width="1" height="16" fill="#c0c0c0" />
<rect x="451" y="629" width="1" height="11" fill="#c0c0c0" />
<rect x="459" y="629" width="1" height="5" fill="#c0c0c0" />
<rect x="467" y="627" width="1" height="3" fill="#c0c0c0" />
<rect x="475" y="622" width="1" height="8" fill="#c0c0c0" />
<rect x="483" y="617" width="1" height="13" fill="#c0c0c0" />
<rect x="491" y="612" width="1" height="18" fill="#c0c0c0" />
<rect x="499" y="612" width="1" height="18" fill="#c0c0c0" />
<rect x="507" y="614" width="1" height="16" fill="#c0c0c0" />
<rect x="515" y="619" width="1" height="11" fill="#c0c0c0" />
<rect x="523" y="620" width="1" height="10" fill="#c0c0c0" />
<rect x="531" y="618" width="1" height="12" fill="#c0c0c0" />
<rect x="539" y="617" width="1" height="13" fill="#c0c0c0" />
<rect x="547" y="616" width="1" height="14" fill="#c0c0c0" />
<rect x="555" y="616" width="1" height="14" fill="#c0c0c0" />
<rect x="563" y="614" width="1" height="16" fill="#c0c0c0" />
<rect x="571" y="614" width="1" height="16" fill="#c0c0c0" />
<rect x="579" y="616" width="1" height="14" fill="#c0c0c0" />
<rect x="587" y="620" width="1" height="10" fill="#c0c0c0" />
<rect x="595" y="621" width="1" height="9" fill="#c0c0c0" />
<rect x="603" y="616" width="1" height="14" fill="#c0c0c0" />
<rect x="611" y="612" width="1" height="18" fill="#c0c0c0" />
<rect x="619" y="602" width="1" height="28" fill="#c0c0c0" />
<rect x="627" y="597" width="1" height="33" fill="#c0c0c0" />
<rect x="635" y="593" width="1" height="37" fill="#c0c0c0" />
<rect x="643" y="589" width="1" height="41" fill="#c0c0c0" />
<rect x="651" y="590" width="1" height="40" fill="#c0c0c0" />
<rect x="659" y="590" width="1" height="40" fill="#c0c0c0" />
<rect x="667" y="593" width="1" height="37" fill="#c0c0c0" />
<rect x="675" y="595" width="1" height="35" fill="#c0c0c0" />
<rect x="683" y="602" width="1" height="28" fill="#c0c0c0" />
<rect x="691" y="605" width="1" height="25" fill="#c0c0c0" />
<rect x="699" y="609" width="1" height="21" fill="#c0c0c0" />
<rect x="707" y="609" width="1" height="21" fill="#c0c0c0" />
<rect x="715" y="612" width="1" height="18" fill="#c0c0c0" />
<rect x="723" y="614" width="1" height="16" fill="#c0c0c0" />
<rect x="731" y="619" width="1" height="11" fill="#c0c0c0" />
<rect x="739" y="623" width="1" height="7" fill="#c0c0c0" />
<rect x="747" y="626" width="1" height="4" fill="#c0c0c0" />
<rect x="755" y="628" width="1" height="2" fill="#c0c0c0" />
<rect x="763" y="629" width="1" height="1" fill="#c0c0c0" />
<rect x="771" y="629" width="1" height="4" fill="#c0c0c0" />
<rect x="779" y="629" width="1" height="7" fill="#c0c0c0" />
<rect x="787" y="629" width="1" height="6" fill="#c0c0c0" />
<rect x="795" y="629" width="1" height="3" fill="#c0c0c0" />
<rect x="803" y="629" width="1" height="4" fill="#c0c0c0" />
<rect x="811" y="629" width="1" height="7" fill="#c0c0c0" />
<rect x="819" y="629" width="1" height="9" fill="#c0c0c0" />
<rect x="827" y="629" width="1" height="7" fill="#c0c0c0" />
<rect x="835" y="629" width="1" height="4" fill="#c0c0c0" />
<rect x="843" y="629" width="1" height="2" fill="#c0c0c0" />
<rect x="851" y="629" width="1" height="1" fill="#c0c0c0" />
<rect x="859" y="627" width="1" height="3" fill="#c0c0c0" />
<rect x="867" y="625" width="1" height="5" fill="#c0c0c0" />
<rect x="875" y="625" width="1" height="5" fill="#c0c0c0" />
<rect x="883" y="627" width="1" height="3" fill="#c0c0c0" />
<rect x="891" y="627" width="1" height="3" fill="#c0c0c0" />
<rect x="899" y="624" width="1" height="6" fill="#c0c0c0" />
<rect x="907" y="622" width="1" height="8" fill="#c0c0c0" />
<rect x="915" y="621" width="1" height="9" fill="#c0c0c0" />
<rect x="923" y="622" width="1" height="8" fill="#c0c0c0" />
<rect x="931" y="622" width="1" height="8" fill="#c0c0c0" />
<rect x="939" y="622" width="1" height="8" fill="#c0c0c0" />
<rect x="947" y="624" width="1" height="6" fill="#c0c0c0" />
<rect x="955" y="625" width="1" height="5" fill="#c0c0c0" />
<rect x="963" y="627" width="1" height="3" fill="#c0c0c0" />
<rect x="971" y="629" width="1" height="1" fill="#c0c0c0" />
<rect x="979" y="629" width="1" height="4" fill="#c0c0c0" />
<rect x="987" y="629" width="1" height="7" fill="#c0c0c0" />
<rect x="995" y="629" width="1" height="10" fill="#c0c0c0" />
<rect x="1003" y="629" width="1" height="13" fill="#c0c0c0" />
<rect x="1011" y="629" width="1" height="14" fill="#c0c0c0" />
<rect x="1019" y="629" width="1" height="14" fill="#c0c0c0" />
<rect x="1027" y="629" width="1" height="12" fill="#c0c0c0" />
<rect x="1035" y="629" width="1" height="10" fill="#c0c0c0" />
<rect x="1043" y="629" width="1" height="13" fill="#c0c0c0" />
<rect x="1051" y="629" width="1" height="13" fill="#c0c0c0" />
<rect x="1059" y="629" width="1" height="17" fill="#c0c0c0" />
<rect x="1067" y="629" width="1" height="21" fill="#c0c0c0" />
<rect x="1075" y="629" width="1" height="24" fill="#c0c0c0" />
<rect x="1083" y="629" width="1" height="29" fill="#c0c0c0" />
<rect x="1091" y="629" width="1" height="32" fill="#c0c0c0" />
<rect x="1099" y="629" width="1" height="34" fill="#c0c0c0" />
<rect x="1107" y="629" width="1" height="36" fill="#c0c0c0" />
<rect x="1115" y="629" width="1" height="35" fill="#c0c0c0" />
<rect x="1123" y="629" width="1" height="32" fill="#c0c0c0" />
<rect x="1131" y="629" width="1" height="29" fill="#c0c0c0" />
<rect x="1139" y="629" width="1" height="24" fill="#c0c0c0" />
<rect x="1147" y="629" width="1" height="21" fill="#c0c0c0" />
<rect x="1155" y="629" width="1" height="18" fill="#c0c0c0" />
<rect x="1163" y="629" width="1" height="12" fill="#c0c0c0" />
<rect x="1171" y="629" width="1" height="7" fill="#c0c0c0" />
<rect x="1179" y="629" width="1" height="3" fill="#c0c0c0" />
<rect x="1187" y="629" width="1" height="3" fill="#c0c0c0" />
<rect x="1195" y="629" width="1" height="2" fill="#c0c0c0" />
<rect x="1203" y="629" width="1" height="1" fill="#c0c0c0" />
<rect x="1211" y="627" width="1" height="3" fill="#c0c0c0" />
<rect x="1219" y="625" width="1" height="5" fill="#c0c0c0" />
<rect x="1227" y="622" width="1" height="8" fill="#c0c0c0" />
<rect x="1235" y="620" width="1" height="10" fill="#c0c0c0" />
<rect x="1243" y="619" width="1" height="11" fill="#c0c0c0" />
<rect x="1251" y="620" width="1" height="10" fill="#c0c0c0" />
<rect x="1259" y="621" width="1" height="9" fill="#c0c0c0" />
<rect x="1267" y="624" width="1" height="6" fill="#c0c0c0" />
<rect x="1275" y="625" width="1" height="5" fill="#c0c0c0" />
<rect x="1283" y="622" width="1" height="8" fill="#c0c0c0" />
<rect x="1291" y="621" width="1" height="9" fill="#c0c0c0" />
<rect x="1299" y="613" width="1" height="17" fill="#c0c0c0" />
<rect x="1307" y="608" width="1" height="22" fill="#c0c0c0" />
<rect x="1315" y="602" width="1" height="28" fill="#c0c0c0" />
<rect x="1323" y="596" width="1" height="34" fill="#c0c0c0" />
<rect x="1331" y="592" width="1" height="38" fill="#c0c0c0" />
<rect x="1339" y="590" width="1" height="40" fill="#c0c0c0" />
<rect x="1347" y="589" width="1" height="41" fill="#c0c0c0" />
<rect x="1355" y="587" width="1" height="43" fill="#c0c0c0" />
<rect x="1363" y="586" width="1" height="44" fill="#c0c0c0" />
<rect x="1371" y="585" width="1" height="45" fill="#c0c0c0" />
<rect x="1379" y="586" width="1" height="44" fill="#c0c0c0" />
<rect x="1387" y="586" width="1" height="44" fill="#c0c0c0" />
<rect x="1395" y="587" width="1" height="43" fill="#c0c0c0" />
<rect x="1403" y="586" width="1" height="44" fill="#c0c0c0" />
<rect x="1411" y="588" width="1" height="42" fill="#c0c0c0" />
<rect x="1419" y="588" width="1" height="42" fill="#c0c0c0" />
<rect x="1427" y="587" width="1" height="43" fill="#c0c0c0" />
<rect x="1435" y="590" width="1" height="40" fill="#c0c0c0" />
<rect x="1443" y="593" width="1" height="37" fill="#c0c0c0" />
<rect x="1451" y="595" width="1" height="35" fill="#c0c0c0" />
<rect x="1459" y="596" width="1" height="34" fill="#c0c0c0" />
</g>
<polyline points="0.5,660.3 3.5,661.0 11.5,664.9 19.5,669.4 27.5,673.9 35.5,680.2 43.5,687.4 51.5,695.5 59.5,702.8 67.5,710.0 75.5,717.2 83.5,721.3 91.5,723.9 99.5,725.0 107.5,725.0 115.5,721.3 123.5,717.2 131.5,713.6 139.5,708.2 147.5,702.8 155.5,695.5 163.5,689.2 171.5,683.8 179.5,678.0 187.5,673.0 195.5,667.6 203.5,661.2 211.5,655.8 219.5,650.4 227.5,647.2 235.5,645.0 243.5,642.3 251.5,640.5 259.5,639.0 267.5,637.2 275.5,635.6 283.5,635.1 291.5,634.5 299.5,633.3 307.5,633.7 315.5,633.0 323.5,631.9 331.5,631.9 339.5,631.9 347.5,631.9 355.5,631.9 363.5,631.9 371.5,630.7 379.5,630.2 387.5,631.1 395.5,632.1 403.5,633.9 411.5,636.3 419.5,637.1 427.5,639.9 435.5,643.7 443.5,644.9 451.5,646.0 459.5,645.8 467.5,644.6 475.5,641.1 483.5,637.7 491.5,633.9 499.5,629.0 507.5,625.2 515.5,621.7 523.5,620.0 531.5,617.7 539.5,616.5 547.5,616.0 555.5,616.0 563.5,615.7 571.5,616.9 579.5,616.9 587.5,616.9 595.5,616.9 603.5,616.9 611.5,616.0 619.5,614.8 627.5,612.5 635.5,609.6 643.5,607.0 651.5,604.2 659.5,601.3 667.5,597.8 675.5,596.1 683.5,594.9 691.5,594.9 699.5,596.1 707.5,597.0 715.5,600.9 723.5,602.5 731.5,605.6 739.5,609.6 747.5,612.5 755.5,616.0 763.5,619.0 771.5,621.6 779.5,624.7 787.5,626.9 795.5,628.1 803.5,630.7 811.5,633.0 819.5,634.2 827.5,635.1 835.5,635.1 843.5,635.1 851.5,633.9 859.5,633.0 867.5,631.9 875.5,630.7 883.5,630.2 891.5,629.0 899.5,627.6 907.5,625.9 915.5,625.0 923.5,623.8 931.5,623.8 939.5,622.9 947.5,622.9 955.5,622.9 963.5,622.9 971.5,623.8 979.5,625.0 987.5,627.3 995.5,629.0 1003.5,631.1 1011.5,633.0 1019.5,634.2 1027.5,636.8 1035.5,638.2 1043.5,639.9 1051.5,640.8 1059.5,641.5 1067.5,642.9 1075.5,644.1 1083.5,646.0 1091.5,647.2 1099.5,650.7 1107.5,652.4 1115.5,655.5 1123.5,657.9 1131.5,658.8 1139.5,659.8 1147.5,659.0 1155.5,657.9 1163.5,656.7 1171.5,653.3 1179.5,649.4 1187.5,646.3 1195.5,642.3 1203.5,638.7 1211.5,636.1 1219.5,632.7 1227.5,630.9 1235.5,628.0 1243.5,626.1 1251.5,625.2 1259.5,624.0 1267.5,623.1 1275.5,622.8 1283.5,621.9 1291.5,620.9 1299.5,620.0 1307.5,618.5 1315.5,616.7 1323.5,614.5 1331.5,611.0 1339.5,607.5 1347.5,604.1 1355.5,599.8 1363.5,595.9 1371.5,592.5 1379.5,590.6 1387.5,589.0 1395.5,588.0 1403.5,586.8 1411.5,586.8 1419.5,586.8 1427.5,586.8 1435.5,586.8 1443.5,588.0 1451.5,588.8 1459.5,589.9" fill="none" stroke="#ff0000" stroke-width="1" stroke-dasharray="3 3" shape-rendering="crispEdges"/>
</g>
<rect x="1686" y="577" width="2" height="1" fill="#000" />
<text x="1689" y="585.5" font-size="9.4" fill="#000" textLength="27.5" lengthAdjust="spacingAndGlyphs" >643.23</text>
<rect x="1686" y="629" width="2" height="1" fill="#000" />
<text x="1689" y="632.5" font-size="9.4" fill="#000" textLength="18" lengthAdjust="spacingAndGlyphs" >0.00</text>
<text x="1689" y="741.5" font-size="9.4" fill="#000" textLength="36" lengthAdjust="spacingAndGlyphs" >-1417.44</text>
<text x="0" y="759.4" font-size="9.4" fill="#000" textLength="67" lengthAdjust="spacingAndGlyphs" >RSI(14) 63.8978</text>
<g clip-path="url(#crsi)">
<path d="M2,783.5 H1685" stroke="#c0c0c0" stroke-width="1" stroke-dasharray="3 3" shape-rendering="crispEdges"/>
<path d="M2,834.5 H1685" stroke="#c0c0c0" stroke-width="1" stroke-dasharray="3 3" shape-rendering="crispEdges"/>
<path d="M2,895.5 H1685" stroke="#c0c0c0" stroke-width="1" stroke-dasharray="3 3" shape-rendering="crispEdges"/>
<polyline points="0.5,859.7 3.5,860.7 11.5,872.4 19.5,874.1 27.5,882.7 35.5,877.1 43.5,882.7 51.5,883.7 59.5,860.7 67.5,872.4 75.5,855.3 83.5,846.1 91.5,848.9 99.5,846.1 107.5,849.5 115.5,842.1 123.5,848.5 131.5,845.1 139.5,845.7 147.5,839.9 155.5,830.7 163.5,838.7 171.5,834.0 179.5,830.7 187.5,835.4 195.5,836.7 203.5,831.8 211.5,832.9 219.5,839.7 227.5,837.8 235.5,836.7 243.5,840.8 251.5,833.3 259.5,826.9 267.5,828.2 275.5,845.7 283.5,839.9 291.5,835.4 299.5,837.8 307.5,834.0 315.5,828.0 323.5,833.5 331.5,835.0 339.5,841.9 347.5,841.9 355.5,837.2 363.5,829.4 371.5,827.7 379.5,832.5 387.5,856.0 395.5,852.7 403.5,843.8 411.5,848.5 419.5,850.0 427.5,851.7 435.5,838.9 443.5,831.0 451.5,826.5 459.5,825.0 467.5,819.2 475.5,819.0 483.5,816.9 491.5,813.9 499.5,828.2 507.5,831.8 515.5,842.1 523.5,829.9 531.5,828.6 539.5,829.9 547.5,825.0 555.5,828.6 563.5,820.1 571.5,829.2 579.5,833.9 587.5,838.9 595.5,834.6 603.5,819.2 611.5,816.4 619.5,803.6 627.5,811.7 635.5,810.7 643.5,808.5 651.5,821.1 659.5,820.1 667.5,824.5 675.5,826.0 683.5,837.8 691.5,833.1 699.5,836.1 707.5,825.0 715.5,835.0 723.5,832.0 731.5,841.7 739.5,843.8 747.5,841.0 755.5,838.9 763.5,842.7 771.5,844.8 779.5,847.8 787.5,834.6 795.5,832.0 803.5,837.8 811.5,846.8 819.5,845.7 827.5,833.9 835.5,827.1 843.5,829.7 851.5,831.0 859.5,826.5 867.5,825.0 875.5,830.3 883.5,843.1 891.5,832.9 899.5,822.8 907.5,825.0 915.5,825.0 923.5,833.9 931.5,827.8 939.5,835.7 947.5,835.7 955.5,835.7 963.5,839.3 971.5,846.3 979.5,850.6 987.5,852.1 995.5,853.8 1003.5,858.5 1011.5,849.1 1019.5,845.7 1027.5,837.8 1035.5,838.9 1043.5,851.0 1051.5,845.9 1059.5,860.9 1067.5,866.0 1075.5,863.9 1083.5,871.7 1091.5,873.6 1099.5,862.9 1107.5,865.9 1115.5,859.0 1123.5,846.7 1131.5,840.9 1139.5,833.5 1147.5,835.9 1155.5,837.9 1163.5,819.7 1171.5,819.7 1179.5,822.9 1187.5,839.8 1195.5,831.7 1203.5,826.6 1211.5,827.8 1219.5,824.1 1227.5,819.0 1235.5,816.7 1243.5,824.8 1251.5,829.4 1259.5,832.9 1267.5,843.9 1275.5,837.5 1283.5,819.0 1291.5,821.8 1299.5,805.1 1307.5,807.9 1315.5,802.8 1323.5,797.8 1331.5,801.7 1339.5,802.8 1347.5,804.0 1355.5,801.0 1363.5,799.8 1371.5,797.8 1379.5,807.0 1387.5,804.0 1395.5,804.0 1403.5,801.0 1411.5,800.5 1419.5,797.1 1427.5,794.7 1435.5,817.4 1443.5,813.7 1451.5,816.7 1459.5,812.8" fill="none" stroke="#1e90ff" stroke-width="1" shape-rendering="crispEdges"/>
</g>
<text x="1689" y="757.5" font-size="9.4" fill="#000" textLength="14.5" lengthAdjust="spacingAndGlyphs" >100</text>
<text x="1689" y="786.5" font-size="9.4" fill="#000" textLength="9.8" lengthAdjust="spacingAndGlyphs" >80</text>
<text x="1689" y="837.5" font-size="9.4" fill="#000" textLength="9.8" lengthAdjust="spacingAndGlyphs" >50</text>
<text x="1689" y="898.5" font-size="9.4" fill="#000" textLength="9.8" lengthAdjust="spacingAndGlyphs" >15</text>
<text x="1689.5" y="917.5" font-size="9.4" fill="#000" >0</text>
<rect x="1686" y="749" width="2" height="1" fill="#000" />
<rect x="1686" y="783" width="2" height="1" fill="#000" />
<rect x="1686" y="834" width="2" height="1" fill="#000" />
<rect x="1686" y="895" width="2" height="1" fill="#000" />
<rect x="1686" y="919" width="2" height="1" fill="#000" />
<rect x="-5" y="921" width="1" height="4" fill="#000" />
<text x="-6.3" y="933.5" font-size="9.4" fill="#000" >10 Mar 2020</text>
<rect x="59" y="921" width="1" height="4" fill="#000" />
<text x="57.7" y="933.5" font-size="9.4" fill="#000" >20 Mar 2020</text>
<rect x="123" y="921" width="1" height="4" fill="#000" />
<text x="121.7" y="933.5" font-size="9.4" fill="#000" >1 Apr 2020</text>
<rect x="187" y="921" width="1" height="4" fill="#000" />
<text x="185.7" y="933.5" font-size="9.4" fill="#000" >15 Apr 2020</text>
<rect x="251" y="921" width="1" height="4" fill="#000" />
<text x="249.7" y="933.5" font-size="9.4" fill="#000" >27 Apr 2020</text>
<rect x="315" y="921" width="1" height="4" fill="#000" />
<text x="313.7" y="933.5" font-size="9.4" fill="#000" >11 May 2020</text>
<rect x="379" y="921" width="1" height="4" fill="#000" />
<text x="377.7" y="933.5" font-size="9.4" fill="#000" >21 May 2020</text>
<rect x="443" y="921" width="1" height="4" fill="#000" />
<text x="441.7" y="933.5" font-size="9.4" fill="#000" >2 Jun 2020</text>
<rect x="507" y="921" width="1" height="4" fill="#000" />
<text x="505.7" y="933.5" font-size="9.4" fill="#000" >12 Jun 2020</text>
<rect x="571" y="921" width="1" height="4" fill="#000" />
<text x="569.7" y="933.5" font-size="9.4" fill="#000" >24 Jun 2020</text>
<rect x="635" y="921" width="1" height="4" fill="#000" />
<text x="633.7" y="933.5" font-size="9.4" fill="#000" >8 Jul 2020</text>
<rect x="699" y="921" width="1" height="4" fill="#000" />
<text x="697.7" y="933.5" font-size="9.4" fill="#000" >20 Jul 2020</text>
<rect x="763" y="921" width="1" height="4" fill="#000" />
<text x="761.7" y="933.5" font-size="9.4" fill="#000" >30 Jul 2020</text>
<rect x="827" y="921" width="1" height="4" fill="#000" />
<text x="825.7" y="933.5" font-size="9.4" fill="#000" >11 Aug 2020</text>
<rect x="891" y="921" width="1" height="4" fill="#000" />
<text x="889.7" y="933.5" font-size="9.4" fill="#000" >21 Aug 2020</text>
<rect x="955" y="921" width="1" height="4" fill="#000" />
<text x="953.7" y="933.5" font-size="9.4" fill="#000" >2 Sep 2020</text>
<rect x="1019" y="921" width="1" height="4" fill="#000" />
<text x="1017.7" y="933.5" font-size="9.4" fill="#000" >14 Sep 2020</text>
<rect x="1083" y="921" width="1" height="4" fill="#000" />
<text x="1081.7" y="933.5" font-size="9.4" fill="#000" >24 Sep 2020</text>
<rect x="1147" y="921" width="1" height="4" fill="#000" />
<text x="1145.7" y="933.5" font-size="9.4" fill="#000" >8 Oct 2020</text>
<rect x="1211" y="921" width="1" height="4" fill="#000" />
<text x="1209.7" y="933.5" font-size="9.4" fill="#000" >20 Oct 2020</text>
<rect x="1275" y="921" width="1" height="4" fill="#000" />
<text x="1273.7" y="933.5" font-size="9.4" fill="#000" >2 Nov 2020</text>
<rect x="1339" y="921" width="1" height="4" fill="#000" />
<text x="1337.7" y="933.5" font-size="9.4" fill="#000" >12 Nov 2020</text>
<rect x="1403" y="921" width="1" height="4" fill="#000" />
<text x="1401.7" y="933.5" font-size="9.4" fill="#000" >24 Nov 2020</text>
</svg></body></html>
